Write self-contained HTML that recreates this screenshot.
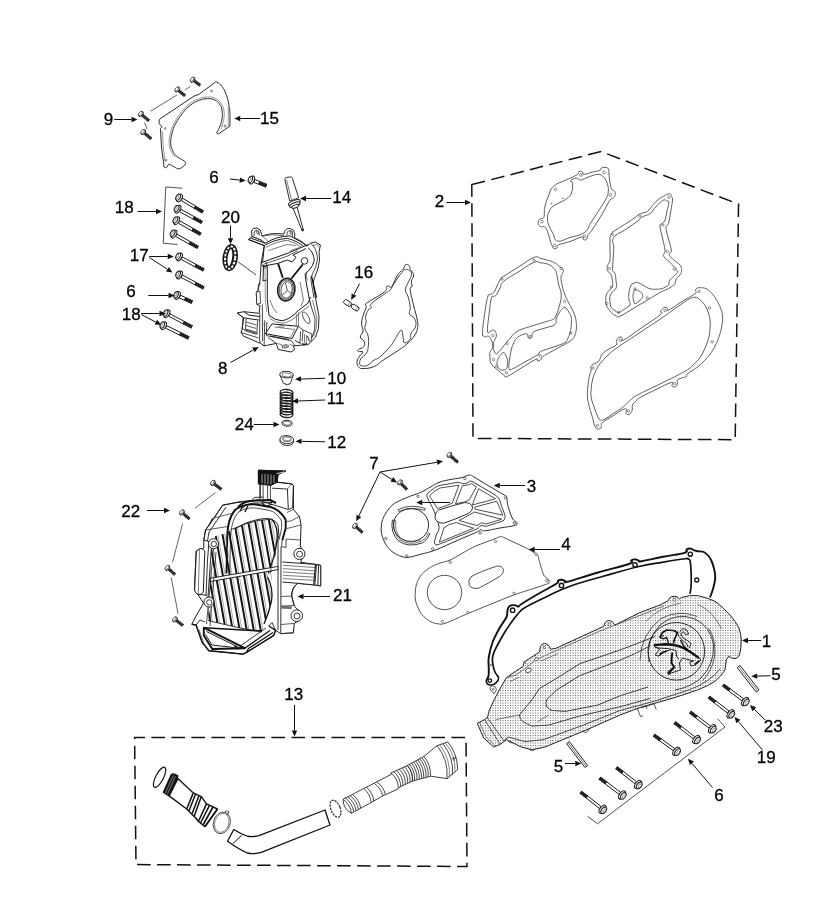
<!DOCTYPE html>
<html><head><meta charset="utf-8"><title>Parts diagram</title>
<style>
html,body{margin:0;padding:0;background:#fff;}
body{width:820px;height:915px;overflow:hidden;font-family:"Liberation Sans",sans-serif;}
svg{display:block;will-change:transform;}
svg text{font-family:"Liberation Sans",sans-serif;fill:#000;stroke:#000;stroke-width:0.3px;}
</style></head><body>
<svg width="820" height="915" viewBox="0 0 820 915" stroke-linejoin="round" stroke-linecap="butt">
<defs>
<pattern id="dots" width="5" height="5" patternUnits="userSpaceOnUse"><rect width="5" height="5" fill="#fff"/><rect x="0" y="0" width="1" height="1" fill="#6a6a6a"/><rect x="2" y="0" width="2" height="1" fill="#b4b4b4"/><rect x="0" y="2" width="1" height="2" fill="#b4b4b4"/><rect x="2" y="2" width="2" height="2" fill="#d6d6d6"/><rect x="1" y="1" width="1" height="1" fill="#e6e6e6"/></pattern>
</defs>
<rect width="820" height="915" fill="#fff"/>
<path d="M471.8 184.6L601 151.5L738.55 204.1L735.2 439.7L473 438.4Z" stroke="#111" stroke-width="1.5" fill="none" stroke-dasharray="13.6 6.4" stroke-linejoin="miter"/>
<path d="M134.6 737.4L466 737.4L467 866.5L136 864.6Z" stroke="#111" stroke-width="1.5" fill="none" stroke-dasharray="13.6 6.4" stroke-dashoffset="3.15" stroke-linejoin="miter"/>
<path d="M159.1 120L161 118.2L193.9 96.2L198.8 94.4L214.6 82.8C215.18 82.66 215.37 81.34 217.1 82.2C218.83 83.06 219.88 83.65 222 86.5C224.12 89.35 224.64 90.29 226.2 94.4C227.76 98.51 227.84 99.83 228.7 104.1C229.56 108.37 229.62 107.57 229.9 112.7C230.18 117.83 229.9 122.97 229.9 126.1L218.3 134L216.5 132.8C217.2 131.52 218.22 130.57 219.5 127.3C220.78 124.03 221.42 122.79 222 118.8C222.58 114.81 222.58 113.63 222 110.2C221.42 106.77 221.23 106.5 219.5 104.1C217.77 101.7 217.45 101.16 214.6 99.9C211.75 98.64 210.99 98.56 207.3 98.7C203.61 98.84 202.79 98.94 198.8 100.5C194.81 102.06 193.91 102.55 190.2 105.4C186.49 108.25 186.31 108.43 182.9 112.7C179.49 116.97 178.14 118.87 175.6 123.7C173.06 128.53 173.14 128.85 172 133.4C170.86 137.95 170.56 139.21 170.7 143.2C170.84 147.19 171.32 147.51 172.6 150.5C173.88 153.49 173.8 153.74 176.2 156C178.6 158.26 180.75 158.64 182.9 160.2C185.05 161.76 185.12 161.42 185.4 162.7C185.68 163.98 185.66 164.28 184.1 165.7C182.54 167.12 180.96 168.5 178.7 168.8C176.44 169.1 176.69 168 174.4 167C172.11 166 170.74 164.36 168.9 164.5C167.06 164.64 167.64 167.02 166.5 167.6C165.36 168.18 164.58 167.14 164 167L163.4 161.5L161.6 148L160.4 128.5L162.2 126.7L159.1 123.7Z" stroke="#222" stroke-width="0.95" fill="#fff"/>
<path d="M221 129.5C221.65 127.05 223.15 123.55 223.8 119C224.45 114.45 224.45 113.69 223.8 110C223.15 106.31 222.94 105.91 221 103.2C219.06 100.49 218.7 99.85 215.5 98.4C212.3 96.95 211.27 96.88 207.3 97C203.33 97.12 202.68 97.27 198.5 98.9C194.32 100.53 193.32 101.04 189.4 104C185.48 106.96 185.25 107.17 181.7 111.6C178.15 116.03 176.84 118.01 174.2 123C171.56 127.99 171.57 128.29 170.4 133C169.23 137.71 169.01 138.93 169.2 143.2C169.39 147.47 169.8 148.03 171.2 151.3C172.6 154.57 174.27 155.82 175.2 157.2" stroke="#555" stroke-width="0.6" fill="none"/>
<path d="M228.2 106.5L228.4 126.3" stroke="#555" stroke-width="0.6" fill="none"/>
<path d="M162.4 131L163.4 148L165 161.5" stroke="#555" stroke-width="0.6" fill="none"/>
<circle cx="211.6" cy="91" r="1" stroke="#333" stroke-width="0.6" fill="none"/>
<circle cx="225" cy="126.1" r="1.1" stroke="#333" stroke-width="0.6" fill="none"/>
<circle cx="165.2" cy="128.5" r="0.9" stroke="#333" stroke-width="0.6" fill="none"/>
<circle cx="165.9" cy="160.2" r="0.9" stroke="#333" stroke-width="0.6" fill="none"/>
<path d="M193.91 80.69L200.3 85.4" stroke="#111" stroke-width="3.2" stroke-dasharray="1.2 0.7" fill="none"/>
<path d="M193.91 80.69L200.3 85.4" stroke="#222" stroke-width="2.7" fill="none" opacity="0.8"/>
<ellipse cx="192.7" cy="79.8" rx="1.65" ry="3" transform="rotate(36.38 192.7 79.8)" stroke="#222" stroke-width="0.9" fill="#fff"/>
<ellipse cx="191.98" cy="79.27" rx="1.35" ry="2.4" transform="rotate(36.38 191.98 79.27)" stroke="#333" stroke-width="0.7" fill="#fff"/>
<path d="M178.55 90.46L185 95.8" stroke="#111" stroke-width="3.2" stroke-dasharray="1.2 0.7" fill="none"/>
<path d="M178.55 90.46L185 95.8" stroke="#222" stroke-width="2.7" fill="none" opacity="0.8"/>
<ellipse cx="177.4" cy="89.5" rx="1.65" ry="3" transform="rotate(39.66 177.4 89.5)" stroke="#222" stroke-width="0.9" fill="#fff"/>
<ellipse cx="176.71" cy="88.93" rx="1.35" ry="2.4" transform="rotate(39.66 176.71 88.93)" stroke="#333" stroke-width="0.7" fill="#fff"/>
<path d="M142.14 114.97L149 120.8" stroke="#111" stroke-width="3.2" stroke-dasharray="1.2 0.7" fill="none"/>
<path d="M142.14 114.97L149 120.8" stroke="#222" stroke-width="2.7" fill="none" opacity="0.8"/>
<ellipse cx="141" cy="114" rx="1.65" ry="3" transform="rotate(40.36 141 114)" stroke="#222" stroke-width="0.9" fill="#fff"/>
<ellipse cx="140.31" cy="113.42" rx="1.35" ry="2.4" transform="rotate(40.36 140.31 113.42)" stroke="#333" stroke-width="0.7" fill="#fff"/>
<path d="M144.46 133.15L151.3 138.8" stroke="#111" stroke-width="3.2" stroke-dasharray="1.2 0.7" fill="none"/>
<path d="M144.46 133.15L151.3 138.8" stroke="#222" stroke-width="2.7" fill="none" opacity="0.8"/>
<ellipse cx="143.3" cy="132.2" rx="1.65" ry="3" transform="rotate(39.52 143.3 132.2)" stroke="#222" stroke-width="0.9" fill="#fff"/>
<ellipse cx="142.61" cy="131.63" rx="1.35" ry="2.4" transform="rotate(39.52 142.61 131.63)" stroke="#333" stroke-width="0.7" fill="#fff"/>
<path d="M150.5 111.2L177 95" stroke="#222" stroke-width="0.7" fill="none"/>
<path d="M185 90L190.5 86.3" stroke="#222" stroke-width="0.7" fill="none"/>
<path d="M144.5 122.5L147 129" stroke="#222" stroke-width="0.7" fill="none"/>
<path d="M253.76 182.35L258.61 184.26L259.71 181.47L254.86 179.56Z" stroke="#1a1a1a" stroke-width="1" fill="#fff"/>
<path d="M259.16 182.86L266.6 185.8" stroke="#111" stroke-width="4" stroke-dasharray="1.5 0.6" fill="none"/>
<path d="M259.16 182.86L266.6 185.8" stroke="#1a1a1a" stroke-width="3.4" fill="none" opacity="0.88"/>
<ellipse cx="251.9" cy="180" rx="2.29" ry="4.25" transform="rotate(21.53 251.9 180)" stroke="#1a1a1a" stroke-width="1" fill="#fff"/>
<ellipse cx="250.41" cy="179.41" rx="2.04" ry="3.33" transform="rotate(21.53 250.41 179.41)" stroke="#1a1a1a" stroke-width="1" fill="#fff"/>
<ellipse cx="249.67" cy="179.12" rx="1.11" ry="1.85" transform="rotate(21.53 249.67 179.12)" stroke="#555" stroke-width="0.6" fill="none"/>
<path d="M181.03 200.49L194.15 208.3L195.53 205.98L182.42 198.17Z" stroke="#1a1a1a" stroke-width="1" fill="#fff"/>
<path d="M194.84 207.14L203 212" stroke="#111" stroke-width="3.7" stroke-dasharray="1.5 0.6" fill="none"/>
<path d="M194.84 207.14L203 212" stroke="#1a1a1a" stroke-width="3.1" fill="none" opacity="0.88"/>
<ellipse cx="179.5" cy="198" rx="2.29" ry="4.25" transform="rotate(30.78 179.5 198)" stroke="#1a1a1a" stroke-width="1" fill="#fff"/>
<ellipse cx="178.13" cy="197.18" rx="2.04" ry="3.33" transform="rotate(30.78 178.13 197.18)" stroke="#1a1a1a" stroke-width="1" fill="#fff"/>
<ellipse cx="177.44" cy="196.77" rx="1.11" ry="1.85" transform="rotate(30.78 177.44 196.77)" stroke="#555" stroke-width="0.6" fill="none"/>
<path d="M179.61 211.68L193.03 219.09L194.34 216.73L180.92 209.32Z" stroke="#1a1a1a" stroke-width="1" fill="#fff"/>
<path d="M193.68 217.91L202 222.5" stroke="#111" stroke-width="3.7" stroke-dasharray="1.5 0.6" fill="none"/>
<path d="M193.68 217.91L202 222.5" stroke="#1a1a1a" stroke-width="3.1" fill="none" opacity="0.88"/>
<ellipse cx="178" cy="209.25" rx="2.29" ry="4.25" transform="rotate(28.9 178 209.25)" stroke="#1a1a1a" stroke-width="1" fill="#fff"/>
<ellipse cx="176.6" cy="208.48" rx="2.04" ry="3.33" transform="rotate(28.9 176.6 208.48)" stroke="#1a1a1a" stroke-width="1" fill="#fff"/>
<ellipse cx="175.9" cy="208.09" rx="1.11" ry="1.85" transform="rotate(28.9 175.9 208.09)" stroke="#555" stroke-width="0.6" fill="none"/>
<path d="M178.35 223.2L191.81 230.77L193.13 228.42L179.67 220.84Z" stroke="#1a1a1a" stroke-width="1" fill="#fff"/>
<path d="M192.47 229.59L200.75 234.25" stroke="#111" stroke-width="3.7" stroke-dasharray="1.5 0.6" fill="none"/>
<path d="M192.47 229.59L200.75 234.25" stroke="#1a1a1a" stroke-width="3.1" fill="none" opacity="0.88"/>
<ellipse cx="176.75" cy="220.75" rx="2.29" ry="4.25" transform="rotate(29.36 176.75 220.75)" stroke="#1a1a1a" stroke-width="1" fill="#fff"/>
<ellipse cx="175.36" cy="219.97" rx="2.04" ry="3.33" transform="rotate(29.36 175.36 219.97)" stroke="#1a1a1a" stroke-width="1" fill="#fff"/>
<ellipse cx="174.66" cy="219.57" rx="1.11" ry="1.85" transform="rotate(29.36 174.66 219.57)" stroke="#555" stroke-width="0.6" fill="none"/>
<path d="M175.6 236.45L189.06 244.02L190.38 241.67L176.92 234.09Z" stroke="#1a1a1a" stroke-width="1" fill="#fff"/>
<path d="M189.72 242.84L198 247.5" stroke="#111" stroke-width="3.7" stroke-dasharray="1.5 0.6" fill="none"/>
<path d="M189.72 242.84L198 247.5" stroke="#1a1a1a" stroke-width="3.1" fill="none" opacity="0.88"/>
<ellipse cx="174" cy="234" rx="2.29" ry="4.25" transform="rotate(29.36 174 234)" stroke="#1a1a1a" stroke-width="1" fill="#fff"/>
<ellipse cx="172.61" cy="233.22" rx="2.04" ry="3.33" transform="rotate(29.36 172.61 233.22)" stroke="#1a1a1a" stroke-width="1" fill="#fff"/>
<ellipse cx="171.91" cy="232.82" rx="1.11" ry="1.85" transform="rotate(29.36 171.91 232.82)" stroke="#555" stroke-width="0.6" fill="none"/>
<path d="M182.5 188.25L165.75 187L163.25 243.25L177.5 244.5" stroke="#222" stroke-width="0.8" fill="none"/>
<path d="M181.14 259.41L194.74 266.7L196.02 264.32L182.42 257.03Z" stroke="#1a1a1a" stroke-width="1" fill="#fff"/>
<path d="M195.38 265.51L203.75 270" stroke="#111" stroke-width="3.7" stroke-dasharray="1.5 0.6" fill="none"/>
<path d="M195.38 265.51L203.75 270" stroke="#1a1a1a" stroke-width="3.1" fill="none" opacity="0.88"/>
<ellipse cx="179.5" cy="257" rx="2.29" ry="4.25" transform="rotate(28.19 179.5 257)" stroke="#1a1a1a" stroke-width="1" fill="#fff"/>
<ellipse cx="178.09" cy="256.24" rx="2.04" ry="3.33" transform="rotate(28.19 178.09 256.24)" stroke="#1a1a1a" stroke-width="1" fill="#fff"/>
<ellipse cx="177.38" cy="255.87" rx="1.11" ry="1.85" transform="rotate(28.19 177.38 255.87)" stroke="#555" stroke-width="0.6" fill="none"/>
<path d="M181.14 277.41L194.74 284.7L196.02 282.32L182.42 275.03Z" stroke="#1a1a1a" stroke-width="1" fill="#fff"/>
<path d="M195.38 283.51L203.75 288" stroke="#111" stroke-width="3.7" stroke-dasharray="1.5 0.6" fill="none"/>
<path d="M195.38 283.51L203.75 288" stroke="#1a1a1a" stroke-width="3.1" fill="none" opacity="0.88"/>
<ellipse cx="179.5" cy="275" rx="2.29" ry="4.25" transform="rotate(28.19 179.5 275)" stroke="#1a1a1a" stroke-width="1" fill="#fff"/>
<ellipse cx="178.09" cy="274.24" rx="2.04" ry="3.33" transform="rotate(28.19 178.09 274.24)" stroke="#1a1a1a" stroke-width="1" fill="#fff"/>
<ellipse cx="177.38" cy="273.87" rx="1.11" ry="1.85" transform="rotate(28.19 177.38 273.87)" stroke="#555" stroke-width="0.6" fill="none"/>
<path d="M179.24 297.93L184.39 300.27L185.63 297.53L180.48 295.2Z" stroke="#1a1a1a" stroke-width="1" fill="#fff"/>
<path d="M185.01 298.9L192.3 302.2" stroke="#111" stroke-width="4" stroke-dasharray="1.5 0.6" fill="none"/>
<path d="M185.01 298.9L192.3 302.2" stroke="#1a1a1a" stroke-width="3.4" fill="none" opacity="0.88"/>
<ellipse cx="177.5" cy="295.5" rx="2.29" ry="4.25" transform="rotate(24.36 177.5 295.5)" stroke="#1a1a1a" stroke-width="1" fill="#fff"/>
<ellipse cx="176.04" cy="294.84" rx="2.04" ry="3.33" transform="rotate(24.36 176.04 294.84)" stroke="#1a1a1a" stroke-width="1" fill="#fff"/>
<ellipse cx="175.31" cy="294.51" rx="1.11" ry="1.85" transform="rotate(24.36 175.31 294.51)" stroke="#555" stroke-width="0.6" fill="none"/>
<path d="M168.66 316.16L182.97 323.74L184.24 321.36L169.92 313.77Z" stroke="#1a1a1a" stroke-width="1" fill="#fff"/>
<path d="M183.61 322.55L192 327" stroke="#111" stroke-width="3.7" stroke-dasharray="1.5 0.6" fill="none"/>
<path d="M183.61 322.55L192 327" stroke="#1a1a1a" stroke-width="3.1" fill="none" opacity="0.88"/>
<ellipse cx="167" cy="313.75" rx="2.29" ry="4.25" transform="rotate(27.92 167 313.75)" stroke="#1a1a1a" stroke-width="1" fill="#fff"/>
<ellipse cx="165.59" cy="313" rx="2.04" ry="3.33" transform="rotate(27.92 165.59 313)" stroke="#1a1a1a" stroke-width="1" fill="#fff"/>
<ellipse cx="164.88" cy="312.63" rx="1.11" ry="1.85" transform="rotate(27.92 164.88 312.63)" stroke="#555" stroke-width="0.6" fill="none"/>
<path d="M165.48 328.1L179.63 335.03L180.81 332.61L166.67 325.68Z" stroke="#1a1a1a" stroke-width="1" fill="#fff"/>
<path d="M180.22 333.82L188.75 338" stroke="#111" stroke-width="3.7" stroke-dasharray="1.5 0.6" fill="none"/>
<path d="M180.22 333.82L188.75 338" stroke="#1a1a1a" stroke-width="3.1" fill="none" opacity="0.88"/>
<ellipse cx="163.75" cy="325.75" rx="2.29" ry="4.25" transform="rotate(26.1 163.75 325.75)" stroke="#1a1a1a" stroke-width="1" fill="#fff"/>
<ellipse cx="162.31" cy="325.05" rx="2.04" ry="3.33" transform="rotate(26.1 162.31 325.05)" stroke="#1a1a1a" stroke-width="1" fill="#fff"/>
<ellipse cx="161.59" cy="324.69" rx="1.11" ry="1.85" transform="rotate(26.1 161.59 324.69)" stroke="#555" stroke-width="0.6" fill="none"/>
<path d="M284.8 179.2Q285 177.6 286.8 177.4L290.6 176.9Q292 177 292.4 178.4L298.7 197.8L289.7 201.1Z" stroke="#222" stroke-width="0.95" fill="#fff"/>
<path d="M286.6 180L291.6 200.2" stroke="#444" stroke-width="0.7" fill="none"/>
<path d="M292.6 207.2L302.2 230.8L303.4 230.2L296.8 206Z" stroke="#222" stroke-width="0.95" fill="#fff"/>
<ellipse cx="294.3" cy="202.6" rx="6.2" ry="2.1" transform="rotate(-20 294.3 202.6)" stroke="#222" stroke-width="1" fill="#fff"/>
<ellipse cx="294.9" cy="204.6" rx="5.6" ry="2" transform="rotate(-20 294.9 204.6)" stroke="#222" stroke-width="1" fill="#fff"/>
<ellipse cx="295.3" cy="206.3" rx="3.8" ry="1.5" transform="rotate(-20 295.3 206.3)" stroke="#222" stroke-width="1" fill="#fff"/>
<path d="M302 229L303.2 231.2" stroke="#111" stroke-width="1.6" fill="none"/>
<ellipse cx="230.2" cy="257.6" rx="6.9" ry="12.9" transform="rotate(7 230.2 257.6)" stroke="#111" stroke-width="1.5" fill="#2a2a2a"/>
<ellipse cx="230.2" cy="257.6" rx="5.0" ry="11.1" transform="rotate(7 230.2 257.6)" stroke="#fff" stroke-width="2.1" stroke-dasharray="2.3 1.5" fill="none"/>
<ellipse cx="229.9" cy="257.6" rx="2.9" ry="9.2" transform="rotate(7 229.9 257.6)" stroke="#111" stroke-width="1.3" fill="#fff"/>
<path d="M237.5 261.5L256.25 275" stroke="#222" stroke-width="0.8" fill="none"/>
<g transform="rotate(33 347.5 303)">
<rect x="343.5" y="300.8" width="8" height="4.4" rx="1.6" stroke="#222" stroke-width="0.9" fill="#fff"/>
<ellipse cx="350.3" cy="303" rx="1.2" ry="2.2" stroke="#444" stroke-width="0.6" fill="none"/>
</g>
<g transform="rotate(33 355 307.6)">
<rect x="351" y="305.4" width="8" height="4.4" rx="1.6" stroke="#222" stroke-width="0.9" fill="#fff"/>
<ellipse cx="357.8" cy="307.6" rx="1.2" ry="2.2" stroke="#444" stroke-width="0.6" fill="none"/>
</g>
<path d="M280 375.2L283.4 383.2Q286.8 386.2 290.4 383.6L293.2 375.4" stroke="#222" stroke-width="0.9" fill="#fff"/>
<ellipse cx="286.5" cy="374.6" rx="6.8" ry="3.3" transform="rotate(3 286.5 374.6)" stroke="#222" stroke-width="0.95" fill="#fff"/>
<ellipse cx="286.6" cy="374.9" rx="4.6" ry="2" transform="rotate(3 286.6 374.9)" stroke="#444" stroke-width="0.7" fill="none"/>
<path d="M284 383.5Q286.8 385 290 383.9" stroke="#555" stroke-width="0.6" fill="none"/>
<ellipse cx="286.5" cy="392.5" rx="6.3" ry="3" transform="rotate(4 286.5 392.5)" stroke="#1a1a1a" stroke-width="1.35" fill="none"/>
<ellipse cx="286.5" cy="395.25" rx="6.3" ry="3" transform="rotate(4 286.5 395.25)" stroke="#1a1a1a" stroke-width="1.35" fill="none"/>
<ellipse cx="286.5" cy="398" rx="6.3" ry="3" transform="rotate(4 286.5 398)" stroke="#1a1a1a" stroke-width="1.35" fill="none"/>
<ellipse cx="286.5" cy="400.75" rx="6.3" ry="3" transform="rotate(4 286.5 400.75)" stroke="#1a1a1a" stroke-width="1.35" fill="none"/>
<ellipse cx="286.5" cy="403.5" rx="6.3" ry="3" transform="rotate(4 286.5 403.5)" stroke="#1a1a1a" stroke-width="1.35" fill="none"/>
<ellipse cx="286.5" cy="406.25" rx="6.3" ry="3" transform="rotate(4 286.5 406.25)" stroke="#1a1a1a" stroke-width="1.35" fill="none"/>
<ellipse cx="286.5" cy="409" rx="6.3" ry="3" transform="rotate(4 286.5 409)" stroke="#1a1a1a" stroke-width="1.35" fill="none"/>
<ellipse cx="286.5" cy="411.75" rx="6.3" ry="3" transform="rotate(4 286.5 411.75)" stroke="#1a1a1a" stroke-width="1.35" fill="none"/>
<ellipse cx="286.5" cy="414.5" rx="6.3" ry="3" transform="rotate(4 286.5 414.5)" stroke="#1a1a1a" stroke-width="1.35" fill="none"/>
<path d="M280.3 392.5L280.3 414.5M292.8 392.5L292.8 414.5" stroke="#222" stroke-width="0.8" fill="none"/>
<ellipse cx="287" cy="423.2" rx="5.1" ry="3" transform="rotate(4 287 423.2)" stroke="#222" stroke-width="1" fill="#fff"/>
<ellipse cx="287" cy="423.2" rx="3.7" ry="1.9" transform="rotate(4 287 423.2)" stroke="#444" stroke-width="0.7" fill="#fff"/>
<ellipse cx="286.8" cy="441.2" rx="6.9" ry="4.3" transform="rotate(4 286.8 441.2)" stroke="#222" stroke-width="0.95" fill="#fff"/>
<ellipse cx="286.8" cy="439.6" rx="6.9" ry="4" transform="rotate(4 286.8 439.6)" stroke="#222" stroke-width="0.95" fill="#fff"/>
<ellipse cx="286.9" cy="439.2" rx="4.2" ry="2.3" transform="rotate(4 286.9 439.2)" stroke="#333" stroke-width="0.8" fill="#fff"/>
<path d="M283.3 439.6Q286.8 441.8 290.6 439.9" stroke="#555" stroke-width="0.6" fill="none"/>
<path d="M248.4 239.5L252 236.5L251.5 231Q253 227.5 257 228Q261 229 261.5 234L262 236Q271 232.5 284 234L284.5 231.5Q286 228 290.5 228.6Q294.5 229.5 294.8 234L294.6 237.8Q303 241.5 307 246L310.6 243.2L315.5 242L320.4 245L319.1 252Q320.5 260 317.9 268.8L314.3 278.5L313 283.4L315.5 298L319 316.6L318.4 328.8L315.4 337.3L308 344.6L293.4 345.9L294.6 349.5L291 352L278.2 349.5L276.3 343.4L264.1 345.9L260.5 343.4L243.4 336.1L241 332.4L242.2 328.8L243.4 317.8L237.3 312.9L244 311.7L259.2 313.3L259.9 305.6L256.8 304.4L256.2 292.2L258 290.5L260 281L261.2 262.7L264.3 245.6Z" stroke="#1a1a1a" stroke-width="0.95" fill="#fff"/>
<path d="M254.2 236Q253.6 231 256.2 230.3Q259 230.5 259.3 235.5" stroke="#1a1a1a" stroke-width="0.8" fill="none"/>
<ellipse cx="257.8" cy="232.3" rx="1.2" ry="1.7" transform="rotate(-10 257.8 232.3)" stroke="#333" stroke-width="0.7" fill="none"/>
<path d="M287 235.5Q286.8 231 289.5 230.6Q292.4 231 292.6 236.5" stroke="#1a1a1a" stroke-width="0.8" fill="none"/>
<ellipse cx="291.3" cy="232.5" rx="1.2" ry="1.8" transform="rotate(-10 291.3 232.5)" stroke="#333" stroke-width="0.7" fill="none"/>
<path d="M248.4 239.5L264.3 245.6M250.5 238L265.5 243.4M252 236.5Q262 240 265.5 243.2" stroke="#1a1a1a" stroke-width="1" fill="none"/>
<path d="M264.3 245.6Q274 239.5 287.4 238.3Q298.4 241.5 303.3 246.2" stroke="#1a1a1a" stroke-width="1" fill="none"/>
<path d="M265.5 243.2Q276 236.3 289.9 235.9Q301 241 307 246.2" stroke="#1a1a1a" stroke-width="1" fill="none"/>
<path d="M262 236Q266 238.5 268 241.5" stroke="#444" stroke-width="0.7" fill="none"/>
<path d="M261.2 262.7L288.7 252.9L298.4 248.7L308.2 244.6" stroke="#1a1a1a" stroke-width="1" fill="none"/>
<path d="M264 266L277.7 263.4L287.2 260.1L292.3 261.9L296 257.2L293 255L306 248.5" stroke="#1a1a1a" stroke-width="1" fill="none"/>
<path d="M263.5 264.3L287.9 255.9L298 250.7" stroke="#333" stroke-width="0.8" fill="none"/>
<path d="M288.7 252.9L292 250L300 247.5" stroke="#444" stroke-width="0.7" fill="none"/>
<path d="M308.2 248Q313.5 252 314.3 260.2Q313 266 309.4 270L305.1 273.7L305.7 279.8L309.4 299.3L311 306" stroke="#1a1a1a" stroke-width="1" fill="none"/>
<path d="M310.6 243.2Q317 248 317.5 259Q316.5 267 312.5 274L310.8 278L311.5 284L314 298" stroke="#1a1a1a" stroke-width="0.8" fill="none"/>
<path d="M311.5 276L316.5 297.5" stroke="#111" stroke-width="1.3" fill="none"/>
<path d="M312.5 245.5L316.5 244.5L319 246.5" stroke="#444" stroke-width="0.7" fill="none"/>
<path d="M307 271.5Q305.3 276 307.5 280.5" stroke="#444" stroke-width="0.7" fill="none"/>
<path d="M264.3 245.6L262.6 262.2M267.3 266.3L267.3 299.3L269 315.4M263.5 265L263 281L266.6 280" stroke="#1a1a1a" stroke-width="1" fill="none"/>
<path d="M261.2 262.7L263.2 266.8L267.3 266.3L266.2 262" stroke="#1a1a1a" stroke-width="0.8" fill="none"/>
<path d="M265 270L265.3 300L266.8 312" stroke="#555" stroke-width="0.6" fill="none"/>
<circle cx="265.2" cy="268.2" r="0.9" stroke="#333" stroke-width="0.6" fill="none"/>
<path d="M256.2 292.2L259.9 291L260.5 303.2L256.8 304.4" stroke="#1a1a1a" stroke-width="0.8" fill="none"/>
<path d="M258 290.5L258.5 284L260.5 283.5" stroke="#1a1a1a" stroke-width="0.8" fill="none"/>
<path d="M278 263.4L282.8 277.7" stroke="#111" stroke-width="1.8" fill="none"/>
<path d="M302.9 264.3L291.2 278.8" stroke="#111" stroke-width="1.8" fill="none"/>
<circle cx="304.5" cy="260.9" r="3.3" stroke="#1a1a1a" stroke-width="0.9" fill="#fff"/>
<ellipse cx="286.3" cy="289.6" rx="8.6" ry="11.3" transform="rotate(8 286.3 289.6)" stroke="#222" stroke-width="1.7" fill="#fff"/>
<ellipse cx="286.3" cy="289.6" rx="7" ry="9.7" transform="rotate(8 286.3 289.6)" stroke="#333" stroke-width="0.8" fill="none"/>
<ellipse cx="286.6" cy="289.9" rx="5.6" ry="8.3" transform="rotate(8 286.6 289.9)" stroke="#333" stroke-width="0.8" fill="none"/>
<path d="M285.3 282L287.3 290.5L281.8 295.5M287.3 290.5L291.8 294" stroke="#333" stroke-width="0.8" fill="none"/>
<path d="M269 315.4Q275 320.5 282 320.8Q290 319.5 298.3 310.5L308 303.2L310.5 297" stroke="#1a1a1a" stroke-width="1" fill="none"/>
<path d="M269.5 318.3Q275.5 323 282.3 323.3Q291 322.3 299.5 313.2L309 306" stroke="#444" stroke-width="0.7" fill="none"/>
<path d="M237.3 312.9L243.4 317.8L259.5 320.2M243.4 317.8L242.2 328.8M244 311.7L249 315.2L259.8 316.5" stroke="#1a1a1a" stroke-width="1" fill="none"/>
<path d="M246 319L245.5 329L257 332.5L257.5 321" stroke="#1a1a1a" stroke-width="0.8" fill="none"/>
<path d="M242.2 328.8L258 334M241 332.4L258.5 338" stroke="#1a1a1a" stroke-width="0.8" fill="none"/>
<path d="M244.5 330.5L256.5 334.2" stroke="#555" stroke-width="1.2" fill="none"/>
<path d="M259.9 313.5L259.5 340L260.5 343.4M262.3 304.4L262.6 341" stroke="#1a1a1a" stroke-width="0.8" fill="none"/>
<path d="M264.8 320.2L264.1 345.9M267 322L266.2 335" stroke="#1a1a1a" stroke-width="0.8" fill="none"/>
<circle cx="264.3" cy="324.3" r="0.6" stroke="#333" stroke-width="0.5" fill="none"/>
<path d="M272 323.9L298.3 326.3L292.2 338.5L265.4 333.7Z" stroke="#1a1a1a" stroke-width="1" fill="none"/>
<path d="M274.5 327L294.8 329.5L290.5 337.5" stroke="#444" stroke-width="0.7" fill="none"/>
<path d="M266 335.5L291.5 340.8L295 346" stroke="#1a1a1a" stroke-width="0.8" fill="none"/>
<path d="M268 337.5Q272 340 276.3 343.4" stroke="#1a1a1a" stroke-width="0.8" fill="none"/>
<path d="M278 326L283 327.5Q285 327 283 325.6L279.5 325" stroke="#444" stroke-width="0.6" fill="none"/>
<ellipse cx="306.2" cy="317.8" rx="2.6" ry="6.4" transform="rotate(-28 306.2 317.8)" stroke="#333" stroke-width="0.8" fill="none"/>
<path d="M296.8 314L296.2 326M298.7 312.3L298.4 326" stroke="#444" stroke-width="0.7" fill="none"/>
<path d="M298.3 326.3L303 330L302.2 341M300.5 331.5L300 343M303 330L312 334L311 341.5" stroke="#1a1a1a" stroke-width="0.8" fill="none"/>
<path d="M304.6 334L304.4 343.2M306.5 335L306.3 342.5" stroke="#444" stroke-width="0.7" fill="none"/>
<path d="M302 343.6Q304.5 345.5 307 343.3" stroke="#222" stroke-width="1.4" fill="none"/>
<path d="M311 306L315 318.5L314.6 330L311.8 338" stroke="#1a1a1a" stroke-width="0.8" fill="none"/>
<path d="M282.5 345.5Q286 343.6 288.6 345.5Q289 347.8 285.5 348Q282.5 347.6 282.5 345.5Z" stroke="#333" stroke-width="0.7" fill="none"/>
<ellipse cx="285.7" cy="346.3" rx="1.4" ry="0.8" transform="rotate(0 285.7 346.3)" stroke="#333" stroke-width="0.6" fill="none"/>
<path d="M276.3 343.4L281.5 344.5L283 349M293.4 345.9L289.5 344.2" stroke="#444" stroke-width="0.7" fill="none"/>
<path d="M252 236.5L262 240.3M262 236Q272 233.8 284 235.6" stroke="#333" stroke-width="0.7" fill="none"/>
<path d="M266 247.5Q275.5 241.5 287.4 240.3Q297 243 301.5 247.5" stroke="#333" stroke-width="0.7" fill="none"/>
<path d="M268.5 250.5L287 244.5L296 245.5" stroke="#444" stroke-width="0.7" fill="none"/>
<path d="M270 300Q272 308 277 313" stroke="#444" stroke-width="0.7" fill="none"/>
<path d="M300 282L303.5 300L301 306" stroke="#444" stroke-width="0.7" fill="none"/>
<path d="M246 322L256.5 325M246 325.5L256.3 328.5" stroke="#333" stroke-width="0.8" fill="none"/>
<path d="M270 336L289 339.5" stroke="#222" stroke-width="1.1" fill="none"/>
<path d="M295 340.5L300.5 343.5M307.5 336L309.5 341.5" stroke="#222" stroke-width="1" fill="none"/>
<path d="M312.5 300L316.8 318L316.2 328.5L313.3 336.5" stroke="#444" stroke-width="0.7" fill="none"/>
<path d="M406.9 264.4C407.97 264.56 408.73 265.03 409.5 266.2C410.27 267.37 409.43 267.88 410.2 269.4C410.97 270.92 412.03 271.16 412.8 272.7C413.57 274.24 413.8 274.02 413.5 276C413.2 277.98 411.87 278.75 411.5 281.2C411.13 283.65 412.2 284.49 411.9 286.5C411.6 288.51 409.83 285.51 410.2 289.8C410.57 294.09 411.82 297.71 413.5 304.9C415.18 312.09 416.49 315.09 417.4 320.6C418.31 326.11 418.01 325.14 417.4 328.5C416.79 331.86 416.95 331.64 414.8 335C412.65 338.36 412.19 339.21 408.2 342.9C404.21 346.59 403.51 346.81 397.7 350.8C391.89 354.79 388.81 356.34 383.3 360C377.79 363.66 378.84 364.52 374.1 366.5C369.36 368.48 366.66 368.5 363 368.5C359.34 368.5 359.78 368.18 358.4 366.5C357.02 364.82 356.8 363.75 357.1 361.3C357.4 358.85 358.32 358.15 359.7 356C361.08 353.85 363.3 353.17 363 352.1C362.7 351.03 359.47 352.01 358.4 351.4C357.33 350.79 357.19 350.57 358.4 349.5C359.61 348.43 362.22 348.64 363.6 346.8C364.98 344.96 365.07 343.89 364.3 341.6C363.53 339.31 360.6 339.45 360.3 337C360 334.55 362.7 334.32 363 331.1C363.3 327.88 361.46 327.19 361.6 323.2C361.74 319.21 362.53 317.66 363.6 314C364.67 310.34 365.73 309.79 366.2 307.5C366.67 305.21 364.67 305.74 365.6 304.2C366.53 302.66 365.77 303.82 370.2 300.9C374.63 297.98 380.77 294.92 384.6 291.7C388.43 288.48 385.69 288.48 386.6 287.1C387.51 285.72 387.29 285.94 388.5 285.8C389.71 285.66 389.65 289.09 391.8 286.5C393.95 283.91 395.09 278.69 397.7 274.7C400.31 270.71 401.32 271.55 403 269.4C404.68 267.25 403.99 266.67 404.9 265.5C405.81 264.33 405.83 264.24 406.9 264.4Z" stroke="#222" stroke-width="0.95" fill="#fff" />
<path d="M405.6 269.4C407.12 269.24 408.12 269.46 409.5 270.7C410.88 271.94 411.8 271.92 411.5 274.7C411.2 277.48 409.65 279.08 408.2 282.6C406.75 286.12 405.3 286.44 405.3 289.8C405.3 293.16 407.06 292.87 408.2 297C409.34 301.13 409.9 303.53 410.2 307.5C410.5 311.47 408.59 311.55 409.5 314C410.41 316.45 412.63 315.25 414.1 318C415.57 320.75 416.55 322.14 415.8 325.8C415.05 329.46 412.21 330.62 410.9 333.7C409.59 336.78 411.74 336.85 410.2 339C408.66 341.15 405.98 343.53 404.3 342.9C402.62 342.27 403.77 339.22 403 336.3C402.23 333.38 402.84 329.77 401 330.4C399.16 331.03 397.69 335.17 395.1 339C392.51 342.83 393.56 342.53 389.9 346.8C386.24 351.07 383.09 354.22 379.4 357.3C375.71 360.38 376.85 358.16 374.1 360C371.35 361.84 370.35 363.82 367.6 365.2C364.85 366.58 364.14 366.2 362.3 365.9C360.46 365.6 360 365.6 359.7 363.9C359.4 362.2 359.48 361.05 361 358.6C362.52 356.15 364.52 356.15 366.2 353.4C367.88 350.65 367.73 350.79 368.2 346.8C368.67 342.81 368.97 340.57 368.2 336.3C367.43 332.03 365.37 331.86 364.9 328.5C364.43 325.14 366.04 324.65 366.2 321.9C366.36 319.15 365.13 319.45 365.6 316.7C366.07 313.95 366.82 312.25 368.2 310.1C369.58 307.95 370.73 309.04 371.5 307.5C372.27 305.96 368.14 306.88 371.5 303.5C374.86 300.12 381.61 296.06 385.9 293C390.19 289.94 388.22 292.22 389.9 290.4C391.58 288.58 390.98 288.56 393.1 285.2C395.22 281.84 396.69 279.22 399 276C401.31 272.78 401.46 272.94 403 271.4C404.54 269.86 404.08 269.56 405.6 269.4Z" stroke="#222" stroke-width="0.85" fill="none" />
<path d="M553.75 186.25C557.83 182.52 560.58 182.67 566 180C571.42 177.33 573.97 176.78 577 174.8C580.03 172.82 577.72 172.15 579 171.5C580.28 170.85 581.33 171.35 582.5 172C583.67 172.65 581.78 174.25 584 174.3C586.22 174.35 588.27 173.16 592 172.2C595.73 171.24 597.78 171.18 600 170.2C602.22 169.22 600.33 168.68 601.5 168C602.67 167.32 603.37 167.07 605 167.3C606.63 167.53 607.57 167.44 608.5 169C609.43 170.56 608.74 171.43 609 174C609.26 176.57 609.02 176.62 609.6 180C610.18 183.38 610.31 185.82 611.5 188.5C612.69 191.18 613.88 189.87 614.7 191.5C615.52 193.13 615.51 193.87 615 195.5C614.49 197.13 613.67 197.45 612.5 198.5C611.33 199.55 611.75 197.55 610 200C608.25 202.45 607.68 204.33 605 209C602.32 213.67 601.77 214.75 598.5 220C595.23 225.25 593.5 227.95 591 231.5C588.5 235.05 588.78 233.45 587.8 235.2C586.82 236.95 587.8 237.95 586.8 239C585.8 240.05 584.62 240.17 583.5 239.7C582.38 239.23 585.15 236.58 582 237C578.85 237.42 575.48 239.63 570 241.5C564.52 243.37 561.53 243.48 558.5 245C555.47 246.52 558.17 247.23 557 248C555.83 248.77 554.67 248.88 553.5 248.3C552.33 247.72 552.82 247.44 552 245.5C551.18 243.56 551.05 243.32 550 240C548.95 236.68 548.78 234.28 547.5 231.25C546.22 228.22 546.13 228.11 544.5 227C542.87 225.89 541.95 227.32 540.5 226.5C539.05 225.68 538.58 225.13 538.3 223.5C538.02 221.87 538.03 220.9 539.3 219.5C540.57 218.1 542.58 219.25 543.75 217.5C544.92 215.75 544.01 214.62 544.3 212C544.59 209.38 544.02 209.98 545 206.25C545.98 202.52 546.46 200.67 548.5 196C550.54 191.33 549.67 189.98 553.75 186.25Z" stroke="#333" stroke-width="0.8" fill="none" />
<path d="M570.5 180.5C569.54 181.74 572.27 180.58 572.5 183.5C572.73 186.42 572.78 189.5 571.5 193C570.22 196.5 569.68 196.28 567 198.5C564.32 200.72 563.27 200.7 560 202.5C556.73 204.3 555.52 204.1 553 206.2C550.48 208.3 550.48 208.63 549.2 211.5C547.92 214.37 547.55 215.23 547.5 218.5C547.45 221.77 547.72 222 549 225.5C550.28 229 551.02 229.88 553 233.5C554.98 237.12 553.53 240.07 557.5 241C561.47 241.93 563.7 239.48 570 237.5C576.3 235.52 579.6 236 584.5 232.5C589.4 229 587.5 227.87 591 222.5C594.5 217.13 595.93 215.17 599.5 209.5C603.07 203.83 604.27 202.28 606.3 198.2C608.33 194.12 607.85 194.99 608.2 192C608.55 189.01 608.52 188.48 607.8 185.4C607.08 182.32 606.41 181.02 605.1 178.8C603.79 176.58 603.55 176.9 602.2 175.9C600.85 174.9 601.35 174.66 599.3 174.5C597.25 174.34 596.83 174.24 593.4 175.2C589.97 176.16 587.68 177.48 584.6 178.6C581.52 179.72 582.07 180.09 580.2 180C578.33 179.91 578.86 178.08 576.6 178.2C574.34 178.32 571.46 179.26 570.5 180.5Z" stroke="#333" stroke-width="0.8" fill="none" />
<circle cx="555.5" cy="189.5" r="1.35" stroke="#444" stroke-width="0.6" fill="none"/>
<circle cx="581" cy="175" r="1.35" stroke="#444" stroke-width="0.6" fill="none"/>
<circle cx="604" cy="172.3" r="1.35" stroke="#444" stroke-width="0.6" fill="none"/>
<circle cx="610.6" cy="194.8" r="1.35" stroke="#444" stroke-width="0.6" fill="none"/>
<circle cx="584.4" cy="236.3" r="1.35" stroke="#444" stroke-width="0.6" fill="none"/>
<circle cx="554.7" cy="245.5" r="1.35" stroke="#444" stroke-width="0.6" fill="none"/>
<circle cx="542" cy="221.7" r="1.35" stroke="#444" stroke-width="0.6" fill="none"/>
<circle cx="551.5" cy="203.5" r="0.5" stroke="#444" stroke-width="0.6" fill="none"/>
<circle cx="563" cy="198.5" r="0.5" stroke="#444" stroke-width="0.6" fill="none"/>
<path d="M533.75 257.5C539 255.52 537.5 257.8 541 258.5C544.5 259.2 545.48 259.45 548.75 260.5C552.02 261.55 552.49 261.58 555 263C557.51 264.42 557.98 265.55 559.5 266.6C561.02 267.65 560.59 266.64 561.5 267.5C562.41 268.36 563.17 268.9 563.4 270.3C563.63 271.7 563.06 271.82 562.5 273.5C561.94 275.18 561 274.35 561 277.5C561 280.65 561.57 282.92 562.5 287C563.43 291.08 563.6 291.38 565 295C566.4 298.62 566.75 299 568.5 302.5C570.25 306 570.98 306.85 572.5 310C574.02 313.15 574.12 313.08 575 316C575.88 318.92 575.95 319.47 576.25 322.5C576.55 325.53 576.59 326.08 576.3 329C576.01 331.92 575.77 332.78 575 335C574.23 337.22 574.17 337.04 573 338.5C571.83 339.96 573.5 339.03 570 341.25C566.5 343.47 563.25 345.08 558 348C552.75 350.92 551 351.77 547.5 353.75C544 355.73 544.75 354.95 543 356.5C541.25 358.05 541.35 359.44 540 360.4C538.65 361.36 538.23 360.83 537.2 360.6C536.17 360.37 539.31 357.67 535.6 359.4C531.89 361.13 527.86 364.07 521.3 368C514.74 371.93 511.59 374.62 507.5 376.25C503.41 377.88 506.2 376.57 503.75 375C501.3 373.43 499.92 372.12 497 369.5C494.08 366.88 492.88 366.43 491.25 363.75C489.62 361.07 490.29 360.62 490 358C489.71 355.38 489.53 354.6 490 352.5C490.47 350.4 491.12 350.46 492 349C492.88 347.54 493.75 348 493.75 346.25C493.75 344.5 493.17 343.83 492 341.5C490.83 339.17 490.15 337.35 488.75 336.25C487.35 335.15 487.17 336.8 486 336.8C484.83 336.8 484.57 337.25 483.75 336.25C482.93 335.25 482.32 337.46 482.5 332.5C482.68 327.54 483.33 323.17 484.5 315C485.67 306.83 486.22 302.28 487.5 297.5C488.78 292.72 488.54 295.67 490 294.5C491.46 293.33 492.12 294.48 493.75 292.5C495.38 290.52 495.54 288.92 497 286C498.46 283.08 498.95 281.98 500 280C501.05 278.02 500.62 278.38 501.5 277.5C502.38 276.62 499.78 278.7 503.75 276.25C507.72 273.8 511.5 271.38 518.5 267C525.5 262.62 528.5 259.48 533.75 257.5Z" stroke="#333" stroke-width="0.8" fill="none" />
<path d="M533.75 262.5C538.88 260.47 537.5 262.33 541 262.8C544.5 263.27 545.95 263.4 548.75 264.5C551.55 265.6 551.25 265.63 553 267.5C554.75 269.37 554.97 268.65 556.25 272.5C557.53 276.35 557.33 278.75 558.5 284C559.67 289.25 561.13 289.63 561.25 295C561.37 300.37 560.46 301.75 559 307C557.54 312.25 556.75 314.47 555 317.5C553.25 320.53 553.25 319.12 551.5 320C549.75 320.88 552.05 319.85 547.5 321.25C542.95 322.65 539 323.67 532 326C525 328.33 522.87 328.1 517.5 331.25C512.13 334.4 512.5 335.71 509 339.5C505.5 343.29 504.72 344.82 502.5 347.5C500.28 350.18 500.96 349.54 499.5 351C498.04 352.46 497.65 354.1 496.25 353.75C494.85 353.4 494.38 351.54 493.5 349.5C492.62 347.46 492.27 347.1 492.5 345C492.73 342.9 493.62 342.54 494.5 340.5C495.38 338.46 495.95 338.12 496.25 336.25C496.55 334.38 496.38 333.96 495.8 332.5C495.22 331.04 494.99 330.3 493.75 330C492.51 329.7 491.96 330.91 490.5 331.2C489.04 331.49 487.85 335.03 487.5 331.25C487.15 327.47 488.12 322.58 489 315C489.88 307.42 490.2 303.11 491.25 298.75C492.3 294.39 492.33 297.18 493.5 296.3C494.67 295.43 494.73 296.94 496.25 295C497.77 293.06 498.25 291.21 500 288C501.75 284.79 499.32 285.1 503.75 281.25C508.18 277.4 512 275.88 519 271.5C526 267.12 528.62 264.53 533.75 262.5Z" stroke="#333" stroke-width="0.8" fill="none" />
<path d="M565 307.5C566.7 308.08 567.34 309.67 568.8 312C570.26 314.33 570.67 314.47 571.25 317.5C571.83 320.53 571.59 321.5 571.3 325C571.01 328.5 570.77 329.47 570 332.5C569.23 335.53 569.17 335.67 568 338C566.83 340.33 568.5 340.35 565 342.5C561.5 344.65 558.54 345.16 553 347.2C547.46 349.24 544.63 349.55 541.25 351.25C537.87 352.95 539.38 353.62 538.5 354.5C537.62 355.38 540.88 353.13 537.5 355C534.12 356.87 530.12 359.12 524 362.5C517.88 365.88 514.68 368.1 511.25 369.5C507.82 370.9 509.88 369.26 509.3 368.5C508.72 367.74 508.63 368.7 508.75 366.25C508.87 363.8 509.22 361.79 509.8 358C510.38 354.21 510.46 353.27 511.25 350C512.04 346.73 512.03 346.62 513.2 344C514.37 341.38 514.55 340.73 516.25 338.75C517.95 336.77 518.17 336.67 520.5 335.5C522.83 334.33 524.55 333.73 526.25 333.75C527.95 333.77 527.39 334.75 527.8 335.6C528.21 336.45 527.49 336.77 528 337.4C528.51 338.03 529.07 338.35 530 338.3C530.93 338.25 531.49 338.09 532 337.2C532.51 336.31 531.5 335.89 532.2 334.5C532.9 333.11 532.01 332.77 535 331.25C537.99 329.73 540.33 329.57 545 328C549.67 326.43 552.39 326.6 555 324.5C557.61 322.4 555.33 321.51 556.2 319C557.08 316.49 557.51 315.97 558.75 313.75C559.99 311.53 560.04 310.96 561.5 309.5C562.96 308.04 563.3 306.92 565 307.5Z" stroke="#333" stroke-width="0.8" fill="none" />
<path d="M503.75 352.5C505.08 352.9 505 354 506 356C507 358 507.13 357.73 507.5 360C507.87 362.27 507.73 362.17 507.4 364.5C507.07 366.83 507.42 367.28 506.25 368.75C505.08 370.22 504.67 369.8 503 370C501.33 370.2 501.33 370.3 500 369.5C498.67 368.7 498.8 368.53 498 367C497.2 365.47 497.13 365.48 497 363.75C496.87 362.02 497.03 362.17 497.5 360.5C497.97 358.83 497.82 359.1 498.75 357.5C499.68 355.9 499.67 355.83 501 354.5C502.33 353.17 502.42 352.1 503.75 352.5Z" stroke="#333" stroke-width="0.8" fill="none" />
<circle cx="534" cy="260.2" r="1.2" stroke="#444" stroke-width="0.6" fill="none"/>
<circle cx="561" cy="268.5" r="1.2" stroke="#444" stroke-width="0.6" fill="none"/>
<circle cx="502" cy="279" r="1.2" stroke="#444" stroke-width="0.6" fill="none"/>
<circle cx="492.8" cy="335.5" r="1.2" stroke="#444" stroke-width="0.6" fill="none"/>
<circle cx="564.5" cy="301.5" r="1.2" stroke="#444" stroke-width="0.6" fill="none"/>
<circle cx="571" cy="333" r="1.2" stroke="#444" stroke-width="0.6" fill="none"/>
<circle cx="540.3" cy="355.8" r="1.2" stroke="#444" stroke-width="0.6" fill="none"/>
<circle cx="530" cy="336.3" r="1.2" stroke="#444" stroke-width="0.6" fill="none"/>
<circle cx="507.2" cy="343.5" r="1.2" stroke="#444" stroke-width="0.6" fill="none"/>
<circle cx="493.5" cy="359.5" r="1.2" stroke="#444" stroke-width="0.6" fill="none"/>
<circle cx="506.3" cy="372.7" r="1.2" stroke="#444" stroke-width="0.6" fill="none"/>
<circle cx="496.3" cy="366.5" r="1.2" stroke="#444" stroke-width="0.6" fill="none"/>
<path d="M669.5 193.75C671.37 193.8 670.8 195.04 671.5 196.5C672.2 197.96 672.66 196.62 672.5 200C672.34 203.38 671.67 205.75 670.8 211C669.92 216.25 669.64 219.12 668.75 222.5C667.86 225.88 667.64 224.1 667 225.5C666.36 226.9 665.65 225.35 666 228.5C666.35 231.65 667.27 233.98 668.5 239C669.73 244.02 670.9 246.73 671.25 250C671.6 253.27 670.41 251.72 670 253C669.59 254.28 668.45 253.75 669.5 255.5C670.55 257.25 672.05 258.28 674.5 260.5C676.95 262.72 678.39 263.13 680 265C681.61 266.87 681.11 266.75 681.4 268.5C681.69 270.25 681.81 270.75 681.25 272.5C680.69 274.25 680.17 274.54 679 276C677.83 277.46 677.07 277.35 676.25 278.75C675.43 280.15 676.08 280.54 675.5 282C674.92 283.46 675.38 283.48 673.75 285C672.12 286.52 671.12 287.04 668.5 288.5C665.88 289.96 665.65 289.62 662.5 291.25C659.35 292.88 658.5 293.46 655 295.5C651.5 297.54 652.4 297.08 647.5 300C642.6 302.92 640.42 304.21 634 308C627.58 311.79 624.2 314.5 620 316.25C615.8 318 617.75 316.08 616 315.5C614.25 314.92 614.13 315.15 612.5 313.75C610.87 312.35 610.46 311.54 609 309.5C607.54 307.46 607 307.22 606.25 305C605.5 302.78 605.8 302.33 605.8 300C605.8 297.67 605.5 297.22 606.25 295C607 292.78 607.54 292.54 609 290.5C610.46 288.46 611.73 288.58 612.5 286.25C613.27 283.92 612.59 283.12 612.3 280.5C612.01 277.88 612.14 276.98 611.25 275C610.36 273.02 609.49 273.46 608.5 272C607.51 270.54 607.12 270.5 607 268.75C606.88 267 607.3 266.54 608 264.5C608.7 262.46 609.53 263.38 610 260C610.47 256.62 610 254.67 610 250C610 245.33 609.93 243.15 610 240C610.07 236.85 610.01 237.96 610.3 236.5C610.59 235.04 610.78 234.75 611.25 233.75C611.72 232.75 611.72 232.78 612.3 232.2C612.88 231.62 610.9 233.05 613.75 231.25C616.6 229.45 619.54 227.71 624.5 224.5C629.46 221.29 631.97 219.65 635 217.5C638.03 215.35 636.22 216.18 637.5 215.3C638.78 214.43 638.98 214.4 640.5 213.75C642.02 213.1 642.37 213.08 644 212.5C645.63 211.92 645.52 212.88 647.5 211.25C649.48 209.62 650.17 208.12 652.5 205.5C654.83 202.88 654.93 202.15 657.5 200C660.07 197.85 660.7 197.76 663.5 196.3C666.3 194.84 667.63 193.7 669.5 193.75Z" stroke="#333" stroke-width="0.8" fill="none" />
<path d="M663.75 200C665.56 199.31 665.33 200.22 666.5 200.8C667.67 201.38 668.63 200.12 668.75 202.5C668.87 204.88 667.88 206.92 667 211C666.12 215.08 666.05 217.15 665 220C663.95 222.85 663.67 221.74 662.5 223.2C661.33 224.66 660 222.8 660 226.25C660 229.7 661.33 232.46 662.5 238C663.67 243.54 664.6 246.38 665 250C665.4 253.62 664.48 251.98 664.2 253.5C663.92 255.02 662.56 254.52 663.8 256.5C665.04 258.48 666.89 259.43 669.5 262C672.11 264.57 673.34 265.63 675 267.5C676.66 269.37 676.02 268.83 676.6 270C677.18 271.17 678.22 270.98 677.5 272.5C676.78 274.02 675.25 274.75 673.5 276.5C671.75 278.25 671.05 278.6 670 280C668.95 281.4 669.35 281.33 669 282.5C668.65 283.67 669.43 283.9 668.5 285C667.57 286.1 666.69 286.32 665 287.2C663.31 288.07 663.47 288.28 661.25 288.75C659.03 289.22 658.12 289.2 655.5 289.2C652.88 289.2 652.8 289.61 650 288.75C647.2 287.89 646.42 286.96 643.5 285.5C640.58 284.04 639.72 283.04 637.5 282.5C635.28 281.96 635.46 282.62 634 283.2C632.54 283.78 632.3 283.41 631.25 285C630.2 286.59 630.08 287.67 629.5 290C628.92 292.33 628.87 292.67 628.75 295C628.63 297.33 628.71 297.67 629 300C629.29 302.33 631.05 302.9 630 305C628.95 307.1 627.12 307.25 624.5 309C621.88 310.75 620.97 312.15 618.75 312.5C616.53 312.85 616.75 311.67 615 310.5C613.25 309.33 612.42 309.48 611.25 307.5C610.08 305.52 610.29 304.62 610 302C609.71 299.38 609.3 298.7 610 296.25C610.7 293.8 611.54 293.54 613 291.5C614.46 289.46 615.55 290.07 616.25 287.5C616.95 284.93 616.29 283.71 616 280.5C615.71 277.29 615.75 275.97 615 273.75C614.25 271.53 613.38 272.17 612.8 271C612.22 269.83 612.41 271.78 612.5 268.75C612.59 265.72 612.91 262.96 613.2 258C613.49 253.04 613.62 252.28 613.75 247.5C613.88 242.72 611.01 241.7 613.75 237.5C616.49 233.3 619.96 233.29 625.5 229.5C631.04 225.71 634.16 223.75 637.5 221.25C640.84 218.75 638.92 219.68 639.8 218.8C640.67 217.93 639.92 218.27 641.25 217.5C642.58 216.73 643.46 216.38 645.5 215.5C647.54 214.62 647.9 215.38 650 213.75C652.1 212.12 652.46 210.83 654.5 208.5C656.54 206.17 656.59 205.73 658.75 203.75C660.91 201.77 661.94 200.69 663.75 200Z" stroke="#333" stroke-width="0.8" fill="none" />
<path d="M635 290C636.31 289.47 636.83 290.13 638.5 290.8C640.17 291.47 640.16 291.38 641.25 292.5C642.34 293.62 642.27 293.67 642.6 295C642.93 296.33 643.46 295.9 642.5 297.5C641.54 299.1 641 299.33 639 301C637 302.67 636.44 304.02 635 303.75C633.56 303.48 634.13 302 633.6 300C633.07 298 633 298.17 633 296.25C633 294.33 633.07 294.47 633.6 292.8C634.13 291.13 633.69 290.53 635 290Z" stroke="#333" stroke-width="0.8" fill="none" />
<circle cx="668.8" cy="197.3" r="1.2" stroke="#444" stroke-width="0.6" fill="none"/>
<circle cx="639.7" cy="216" r="1.2" stroke="#444" stroke-width="0.6" fill="none"/>
<circle cx="662.8" cy="225" r="1.2" stroke="#444" stroke-width="0.6" fill="none"/>
<circle cx="612.8" cy="234.5" r="1.2" stroke="#444" stroke-width="0.6" fill="none"/>
<circle cx="667.3" cy="251.5" r="1.2" stroke="#444" stroke-width="0.6" fill="none"/>
<circle cx="609.3" cy="268.5" r="1.2" stroke="#444" stroke-width="0.6" fill="none"/>
<circle cx="674.3" cy="269.2" r="1.2" stroke="#444" stroke-width="0.6" fill="none"/>
<circle cx="635" cy="289" r="1.2" stroke="#444" stroke-width="0.6" fill="none"/>
<circle cx="647.2" cy="298" r="1.2" stroke="#444" stroke-width="0.6" fill="none"/>
<circle cx="606.8" cy="303.5" r="1.2" stroke="#444" stroke-width="0.6" fill="none"/>
<circle cx="618.5" cy="312.2" r="1.2" stroke="#444" stroke-width="0.6" fill="none"/>
<circle cx="611.3" cy="287" r="1.2" stroke="#444" stroke-width="0.6" fill="none"/>
<path d="M697.5 288C698.9 287.37 699.46 287.62 701.5 287.8C703.54 287.98 704.03 287.65 706.25 288.75C708.47 289.85 708.96 290.46 711 292.5C713.04 294.54 713.25 294.93 715 297.5C716.75 300.07 717.04 300.58 718.5 303.5C719.96 306.42 720.34 307.32 721.25 310C722.16 312.68 722.11 312.67 722.4 315C722.69 317.33 722.78 316.73 722.5 320C722.22 323.27 722.08 324.92 721.2 329C720.33 333.08 720.08 333.77 718.75 337.5C717.42 341.23 717.25 341.5 715.5 345C713.75 348.5 713.47 349.23 711.25 352.5C709.03 355.77 708.62 356.08 706 359C703.38 361.92 702.8 362.55 700 365C697.2 367.45 696.92 367.46 694 369.5C691.08 371.54 689.25 372.12 687.5 373.75C685.75 375.38 687.32 375.67 686.5 376.5C685.68 377.33 685.28 376.88 684 377.3C682.72 377.72 682.52 377.67 681 378.3C679.48 378.93 678.34 378.79 677.5 380C676.66 381.21 677.69 382.04 677.4 383.5C677.11 384.96 677.16 385.48 676.25 386.25C675.34 387.02 674.49 386.98 673.5 386.8C672.51 386.62 672.52 386.5 672 385.5C671.48 384.5 675.22 381.45 671.25 382.5C667.28 383.55 662.29 386.5 655 390C647.71 393.5 644.43 394.93 640 397.5C635.57 400.07 637.75 399.25 636 401C634.25 402.75 633.36 403.13 632.5 405C631.64 406.87 632.59 407.25 632.3 409C632.01 410.75 632.14 411.22 631.25 412.5C630.36 413.78 629.68 414.27 628.5 414.5C627.32 414.73 627.02 414.84 626.2 413.5C625.38 412.16 627.96 408.28 625 408.75C622.04 409.22 618.75 412.29 613.5 415.5C608.25 418.71 605.3 420.05 602.5 422.5C599.7 424.95 602.08 424.54 601.5 426C600.92 427.46 601.05 428.12 600 428.75C598.95 429.38 598.17 429.28 597 428.7C595.83 428.12 595.79 427.81 595 426.25C594.21 424.69 594.18 424.04 593.6 422C593.02 419.96 593.46 420.88 592.5 417.5C591.54 414.12 590.67 412.17 589.5 407.5C588.33 402.83 587.92 401.93 587.5 397.5C587.08 393.07 587.41 392.58 587.7 388.5C587.99 384.42 588.28 383.15 588.75 380C589.22 376.85 589.12 377.33 589.7 375C590.28 372.67 591.06 371.63 591.25 370C591.44 368.37 590.5 368.88 590.5 368C590.5 367.12 590.67 367.14 591.25 366.25C591.83 365.36 592.12 364.87 593 364.2C593.88 363.53 593.66 364.09 595 363.4C596.34 362.71 597.47 362.63 598.75 361.25C600.03 359.87 599.62 359.25 600.5 357.5C601.38 355.75 600.52 355.73 602.5 353.75C604.48 351.77 605.79 351.04 609 349C612.21 346.96 614.55 346.75 616.25 345C617.95 343.25 616.01 342.96 616.3 341.5C616.59 340.04 616.64 339.8 617.5 338.75C618.36 337.7 618.88 337.22 620 337C621.12 336.78 621.42 337.1 622.3 337.8C623.17 338.5 619.15 342.4 623.75 340C628.35 337.6 633.54 333.33 642 327.5C650.46 321.67 655.66 318.73 660 315C664.34 311.27 660.02 312.96 660.6 311.5C661.18 310.04 661.47 309.73 662.5 308.75C663.53 307.77 663.88 307.48 665 307.3C666.12 307.12 666.42 307.37 667.3 308C668.17 308.63 665.32 311.52 668.75 310C672.18 308.48 675.88 305.29 682 301.5C688.12 297.71 691.85 296.32 695 293.75C698.15 291.18 694.92 291.84 695.5 290.5C696.08 289.16 696.1 288.63 697.5 288Z" stroke="#333" stroke-width="0.8" fill="none" />
<path d="M696.25 297.4C698.35 298.05 698.96 298.91 701 300.8C703.04 302.69 703.37 302.89 705 305.5C706.63 308.11 706.83 308.62 708 312C709.17 315.38 709.53 316.03 710 320C710.47 323.97 710.29 324.92 710 329C709.71 333.08 709.92 333.07 708.75 337.5C707.58 341.93 707.04 343.33 705 348C702.96 352.67 702.8 353.53 700 357.5C697.2 361.47 696.5 361.79 693 365C689.5 368.21 692.47 366.93 685 371.25C677.53 375.57 672.08 377.96 661 383.5C649.92 389.04 644.85 390.92 637.5 395C630.15 399.08 633 398.08 629.5 401C626 403.92 626.23 404.61 622.5 407.5C618.77 410.39 617.58 410.72 613.5 413.4C609.42 416.08 607.8 417.46 605 419C602.2 420.54 602.96 420.09 601.5 420C600.04 419.91 600.31 421.17 598.75 418.6C597.19 416.03 596.55 413.92 594.8 409C593.05 404.08 592.07 402.28 591.25 397.5C590.43 392.72 591.01 392.58 591.3 388.5C591.59 384.42 591.52 383.97 592.5 380C593.48 376.03 593.75 375.29 595.5 371.5C597.25 367.71 597.08 367.55 600 363.75C602.92 359.95 603.92 358.99 608 355.2C612.08 351.41 610.03 352.8 617.5 347.5C624.97 342.2 629.5 339.5 640 332.5C650.5 325.5 654.33 323.08 662.5 317.5C670.67 311.92 669.17 312.68 675 308.6C680.83 304.52 683.53 302.47 687.5 300C691.47 297.53 689.96 298.61 692 298C694.04 297.39 694.15 296.75 696.25 297.4Z" stroke="#333" stroke-width="0.8" fill="none" />
<circle cx="699" cy="291.5" r="1.2" stroke="#444" stroke-width="0.6" fill="none"/>
<circle cx="709.5" cy="308" r="1.2" stroke="#444" stroke-width="0.6" fill="none"/>
<circle cx="712.2" cy="341.8" r="1.2" stroke="#444" stroke-width="0.6" fill="none"/>
<circle cx="665" cy="310.5" r="1.2" stroke="#444" stroke-width="0.6" fill="none"/>
<circle cx="620.3" cy="340.3" r="1.2" stroke="#444" stroke-width="0.6" fill="none"/>
<circle cx="593" cy="368" r="1.2" stroke="#444" stroke-width="0.6" fill="none"/>
<circle cx="674.8" cy="383.5" r="1.2" stroke="#444" stroke-width="0.6" fill="none"/>
<circle cx="628.5" cy="411" r="1.2" stroke="#444" stroke-width="0.6" fill="none"/>
<circle cx="597.5" cy="425.5" r="1.2" stroke="#444" stroke-width="0.6" fill="none"/>
<path d="M469.2 475.1C471.76 474.92 470.04 474.82 473.8 476.9C477.56 478.98 482.16 482.02 488 485.5C493.84 488.98 499.26 492 503 494.3C506.74 496.6 505.78 495 506.7 497C507.62 499 506.5 500.1 507.6 504.3C508.7 508.5 510.36 514.34 512.2 518C514.04 521.66 516.26 521.12 516.8 522.6C517.34 524.08 518.26 524.32 514.9 525.4C511.54 526.48 506.02 526.92 500 528C493.98 529.08 488.6 530.48 484.8 530.8C481 531.12 482.48 529.4 481 529.6C479.52 529.8 482.4 529.52 477.4 531.8C472.4 534.08 464.4 537.36 456 541C447.6 544.64 442.4 547.36 435.4 550C428.4 552.64 426.5 552.72 421 554.2C415.5 555.68 411.7 556.94 407.9 557.4C404.1 557.86 404.18 557.06 402 556.5C399.82 555.94 399 555.6 397 554.6C395 553.6 393.84 552.96 392 551.5C390.16 550.04 389.3 549.2 387.8 547.3C386.3 545.4 385.6 544.2 384.5 542C383.4 539.8 382.96 538.5 382.3 536.3C381.64 534.1 381.38 533.18 381.2 531C381.02 528.82 381.12 527.7 381.4 525.4C381.68 523.1 381.86 521.7 382.6 519.5C383.34 517.3 383.88 516.5 385.1 514.4C386.32 512.3 387.06 511.02 388.7 509C390.34 506.98 391.18 505.94 393.3 504.3C395.42 502.66 396.74 502.08 399.3 500.8C401.86 499.52 403.36 499.02 406.1 497.9C408.84 496.78 410.08 496.3 413 495.2C415.92 494.1 417.3 493.98 420.7 492.4C424.1 490.82 426.34 489.3 430 487.3C433.66 485.3 435 483.94 439 482.4C443 480.86 445.6 480.52 450 479.6C454.4 478.68 457.16 478.7 461 477.8C464.84 476.9 466.64 475.28 469.2 475.1Z" stroke="#222" stroke-width="0.95" fill="#fff" />
<path d="M427.1 494.3C427.77 492.77 430.17 491.18 432 489.8C433.83 488.42 435.43 486.97 438.1 486C440.77 485.03 444.65 484.6 448 484C451.35 483.4 455.78 482.47 458.2 482.4C460.62 482.33 461.12 483.45 462.5 483.6C463.88 483.75 465.42 483.62 466.5 483.3C467.58 482.98 468.08 482 469 481.7C469.92 481.4 469.33 480.28 472 481.5C474.67 482.72 480.73 486.42 485 489C489.27 491.58 494.85 494.17 497.6 497C500.35 499.83 500.28 502.95 501.5 506C502.72 509.05 504.38 513.22 504.9 515.3C505.42 517.38 504.92 517.58 504.6 518.5C504.28 519.42 504.77 519.92 503 520.8C501.23 521.68 496.88 522.88 494 523.8C491.12 524.72 487.87 526.02 485.7 526.3C483.53 526.58 482.53 525.05 481 525.5C479.47 525.95 480.5 527.08 476.5 529C472.5 530.92 463.4 534.4 457 537C450.6 539.6 441.63 543.4 438.1 544.6C434.57 545.8 436.42 544.52 435.8 544.2C435.18 543.88 434.32 544.23 434.4 542.7C434.48 541.17 435.53 537.58 436.3 535C437.07 532.42 439.38 531.2 439 527.2C438.62 523.2 435.83 515.7 434 511C432.17 506.3 429.15 501.78 428 499C426.85 496.22 426.43 495.83 427.1 494.3Z" stroke="#222" stroke-width="0.9" fill="none" />
<path d="M429.5 496L434 491.5L440 488L459 485.2L452.2 503.2L444 506.5L437.5 508.5Z" stroke="#222" stroke-width="0.8" fill="none"/>
<path d="M462.5 485.6L467 485.2L471.5 483.6L476.3 487L469.3 499.8L464 502.2L455.5 503.6Z" stroke="#222" stroke-width="0.8" fill="none"/>
<path d="M478.6 488.7L495.5 498.8L472.2 505Z" stroke="#222" stroke-width="0.8" fill="none"/>
<path d="M496.8 501.2L502.8 515.2L475 509.2L474.6 507.2Z" stroke="#222" stroke-width="0.8" fill="none"/>
<path d="M501.5 519.3L486 524L481.3 522.8L477 525.6L459 520.5L470 514.6L474.5 512Z" stroke="#222" stroke-width="0.8" fill="none"/>
<path d="M456.2 522.6L473.5 528.2L457 535L439.3 542.2L444 527.8L449 524.5Z" stroke="#222" stroke-width="0.8" fill="none"/>
<path d="M438.3 510.2Q452 505.5 464.5 502.6Q470.8 502.4 472.5 506.8Q472.6 511.3 468 513.6Q455 519.6 443.5 523.2Q437.2 523.2 435.2 518.8Q434.4 513 438.3 510.2Z" stroke="#222" stroke-width="0.95" fill="#fff"/>
<ellipse cx="411" cy="525" rx="17.6" ry="16.4" transform="rotate(0 411 525)" stroke="#222" stroke-width="0.95" fill="#fff"/>
<path d="M397.9 509.8Q410 503.5 425.3 508.4L424.8 510.4Q410.5 506 399 511.6Z" stroke="#222" stroke-width="0.8" fill="none"/>
<path d="M392.4 519.9Q390 532 398.5 541Q408.5 548 422.6 542.8Q428.5 539 429.9 533.6" stroke="#222" stroke-width="0.9" fill="none"/>
<path d="M394.2 520.5Q392 531.5 399.8 539.8Q409 546 421.8 541.2Q427 537.8 428.3 533.2" stroke="#333" stroke-width="0.7" fill="none"/>
<path d="M396 521Q394 531 401 538.6Q409.5 544 421 539.8" stroke="#444" stroke-width="0.7" fill="none"/>
<path d="M392.4 519.9L396 521M429.9 533.6L428.3 533.2" stroke="#222" stroke-width="0.7" fill="none"/>
<circle cx="418" cy="496.4" r="1.2" stroke="#333" stroke-width="0.7" fill="#fff"/>
<circle cx="464.8" cy="478.4" r="1.2" stroke="#333" stroke-width="0.7" fill="#fff"/>
<circle cx="505.4" cy="497.8" r="1.2" stroke="#333" stroke-width="0.7" fill="#fff"/>
<circle cx="514.3" cy="523" r="1.2" stroke="#333" stroke-width="0.7" fill="#fff"/>
<circle cx="480.3" cy="533" r="1.2" stroke="#333" stroke-width="0.7" fill="#fff"/>
<circle cx="432.6" cy="548.8" r="1.2" stroke="#333" stroke-width="0.7" fill="#fff"/>
<circle cx="406.8" cy="556" r="1.2" stroke="#333" stroke-width="0.7" fill="#fff"/>
<circle cx="385.8" cy="538.5" r="1.2" stroke="#333" stroke-width="0.7" fill="#fff"/>
<path d="M450.62 455.99L458 462.5" stroke="#111" stroke-width="3.2" stroke-dasharray="1.2 0.7" fill="none"/>
<path d="M450.62 455.99L458 462.5" stroke="#222" stroke-width="2.7" fill="none" opacity="0.8"/>
<ellipse cx="449.5" cy="455" rx="1.65" ry="3" transform="rotate(41.42 449.5 455)" stroke="#222" stroke-width="0.9" fill="#fff"/>
<ellipse cx="448.83" cy="454.4" rx="1.35" ry="2.4" transform="rotate(41.42 448.83 454.4)" stroke="#333" stroke-width="0.7" fill="#fff"/>
<path d="M401.06 483.56L407 489.5" stroke="#111" stroke-width="3.2" stroke-dasharray="1.2 0.7" fill="none"/>
<path d="M401.06 483.56L407 489.5" stroke="#222" stroke-width="2.7" fill="none" opacity="0.8"/>
<ellipse cx="400" cy="482.5" rx="1.65" ry="3" transform="rotate(45 400 482.5)" stroke="#222" stroke-width="0.9" fill="#fff"/>
<ellipse cx="399.36" cy="481.86" rx="1.35" ry="2.4" transform="rotate(45 399.36 481.86)" stroke="#333" stroke-width="0.7" fill="#fff"/>
<path d="M356.13 526.98L362.5 532.5" stroke="#111" stroke-width="3.2" stroke-dasharray="1.2 0.7" fill="none"/>
<path d="M356.13 526.98L362.5 532.5" stroke="#222" stroke-width="2.7" fill="none" opacity="0.8"/>
<ellipse cx="355" cy="526" rx="1.65" ry="3" transform="rotate(40.91 355 526)" stroke="#222" stroke-width="0.9" fill="#fff"/>
<ellipse cx="354.32" cy="525.41" rx="1.35" ry="2.4" transform="rotate(40.91 354.32 525.41)" stroke="#333" stroke-width="0.7" fill="#fff"/>
<path d="M498.75 537C500.05 536.57 500.5 536.5 501.5 536.6C502.5 536.7 500.95 536.22 503.75 537.5C506.55 538.78 510.75 540.75 515.5 543C520.25 545.25 524.2 547.05 527.5 548.75C530.8 550.45 530.25 550.5 532 551.5C533.75 552.5 535.01 552.89 536.25 553.75C537.49 554.61 537.7 554.8 538.2 555.8C538.7 556.8 538.19 556.51 538.75 558.75C539.31 560.99 540 563.75 541 567C542 570.25 542.75 572.9 543.75 575C544.75 577.1 545 576.5 546 577.5C547 578.5 548.15 579.1 548.75 580C549.35 580.9 549.25 581.25 549 582C548.75 582.75 551.2 582.25 547.5 583.75C543.8 585.25 537.25 587.25 530.5 589.5C523.75 591.75 521.85 592 513.75 595C505.65 598 499.25 600.75 490 604.5C480.75 608.25 474.4 610.85 467.5 613.75C460.6 616.65 460.25 617 455.5 619C450.75 621 447.25 622.79 443.75 623.75C440.25 624.71 440.25 624.05 438 623.8C435.75 623.55 434.8 623.5 432.5 622.5C430.2 621.5 428.75 620.55 426.5 618.8C424.25 617.05 422.99 616.11 421.25 613.75C419.51 611.39 418.95 609.75 417.8 607C416.65 604.25 416 602.9 415.5 600C415 597.1 415.15 595.5 415.3 592.5C415.45 589.5 415.65 587.54 416.25 585C416.85 582.46 417.3 581.8 418.3 579.8C419.3 577.8 419.65 576.9 421.25 575C422.85 573.1 424.05 572.05 426.3 570.3C428.55 568.55 429.56 567.75 432.5 566.25C435.44 564.75 437.5 564.05 441 562.8C444.5 561.55 446 561.76 450 560C454 558.24 456.5 556.5 461 554C465.5 551.5 467.9 549.74 472.5 547.5C477.1 545.26 479.5 544.55 484 542.8C488.5 541.05 492.05 539.91 495 538.75C497.95 537.59 497.45 537.43 498.75 537Z" stroke="#333" stroke-width="0.85" fill="#fff" />
<circle cx="444.5" cy="592.5" r="17.2" stroke="#333" stroke-width="0.85" fill="#fff"/>
<path d="M471 576.8Q480 571.5 496.8 566.2Q501.8 565.6 503.5 569.4Q504 573.6 500 576.2Q489 583 479 588Q472.6 589.6 469.2 585.6Q467.6 580.4 471 576.8Z" stroke="#333" stroke-width="0.85" fill="#fff"/>
<circle cx="495.5" cy="541.5" r="1.2" stroke="#333" stroke-width="0.6" fill="#fff"/>
<circle cx="450.2" cy="562.2" r="1.2" stroke="#333" stroke-width="0.6" fill="#fff"/>
<circle cx="536" cy="554.3" r="1.2" stroke="#333" stroke-width="0.6" fill="#fff"/>
<circle cx="547" cy="580.5" r="1.2" stroke="#333" stroke-width="0.6" fill="#fff"/>
<circle cx="514" cy="593.3" r="1.2" stroke="#333" stroke-width="0.6" fill="#fff"/>
<circle cx="467.8" cy="612.3" r="1.2" stroke="#333" stroke-width="0.6" fill="#fff"/>
<circle cx="442.5" cy="621.5" r="1.2" stroke="#333" stroke-width="0.6" fill="#fff"/>
<path d="M486.25 680C486.7 679.2 488 678.4 488.5 676C489 673.6 488.7 671.7 488.75 668C488.8 664.3 488 662.6 488.75 657.5C489.5 652.4 490.45 648.2 492.5 642.5C494.55 636.8 496.25 634 499 629C501.75 624 504.59 620.9 506.25 617.5C507.91 614.1 506.89 614 507.3 612C507.71 610 507.4 608.86 508.3 607.5C509.2 606.14 510.22 605.58 511.8 605.2C513.38 604.82 514.86 605.32 516.2 605.6C517.54 605.88 517.44 606.92 518.5 606.6C519.56 606.28 517.6 606.52 521.5 604C525.4 601.48 531.05 598.05 538 594C544.95 589.95 552.25 586.39 556.25 583.75C560.25 581.11 556.89 581.59 558 580.8C559.11 580.01 560.28 579.7 561.8 579.8C563.32 579.9 564.36 580.94 565.6 581.3C566.84 581.66 561.52 583.36 568 581.6C574.48 579.84 585.8 576.02 598 572.5C610.2 568.98 622.36 566.42 629 564C635.64 561.58 629.94 561.32 631.2 560.4C632.46 559.48 633.74 559.32 635.3 559.4C636.86 559.48 637.76 560.44 639 560.8C640.24 561.16 636.7 562 641.5 561.2C646.3 560.4 654.4 558.48 663 556.8C671.6 555.12 679.78 554.24 684.5 552.8C689.22 551.36 685.38 550.44 686.6 549.6C687.82 548.76 689.06 548.46 690.6 548.6C692.14 548.74 692.82 549.76 694.3 550.3C695.78 550.84 696.11 550.96 698 551.3C699.89 551.64 701.6 551.01 703.75 552C705.9 552.99 707.2 554.45 708.75 556.25C710.3 558.05 710.5 558.75 711.5 561C712.5 563.25 713.05 564.9 713.75 567.5C714.45 570.1 714.75 571.5 715 574C715.25 576.5 715.4 577 715 580C714.6 583 714 585.5 713 589C712 592.5 710.6 595.8 710 597.5" stroke="#111" stroke-width="1.9" fill="none" />
<path d="M498.75 677.5C498 676.4 496.15 674.5 495 672C493.85 669.5 493.44 668.2 493 665C492.56 661.8 491.9 660 492.8 656C493.7 652 494.96 650 497.5 645C500.04 640 502 636.5 505.5 631C509 625.5 512.1 621.4 515 617.5C517.9 613.6 517.9 613.56 520 611.5C522.1 609.44 520.1 610.2 525.5 607.2C530.9 604.2 538.1 600.69 547 596.5C555.9 592.31 558.4 590.39 570 586.25C581.6 582.11 591 579.8 605 575.8C619 571.8 628.6 568.95 640 566.25C651.4 563.55 653 563.8 662 562.3C671 560.8 679.8 559.41 685 558.75C690.2 558.09 687 558.65 688 559C689 559.35 689.4 558.3 690 560.5C690.6 562.7 690.75 566.1 691 570C691.25 573.9 691.25 576.6 691.25 580C691.25 583.4 691.25 584.25 691 587C690.75 589.75 690.2 592.4 690 593.75" stroke="#111" stroke-width="1.7" fill="none" />
<path d="M486.25 680Q486 684.5 490 685Q494 685.5 496.25 682.5Q498.5 681 498.75 677.5" stroke="#111" stroke-width="1.6" fill="none" />
<circle cx="489.8" cy="680.6" r="1.8" stroke="#111" stroke-width="1.3" fill="#fff"/>
<circle cx="512.6" cy="610.2" r="2.2" stroke="#111" stroke-width="1.4" fill="#fff"/>
<circle cx="561.5" cy="585.4" r="2.2" stroke="#111" stroke-width="1.4" fill="#fff"/>
<circle cx="635" cy="564.9" r="2.1" stroke="#111" stroke-width="1.4" fill="#fff"/>
<circle cx="690.3" cy="554.2" r="2.1" stroke="#111" stroke-width="1.4" fill="#fff"/>
<circle cx="696.75" cy="580" r="2" stroke="#111" stroke-width="1.3" fill="#fff"/>
<circle cx="495.2" cy="636.5" r="0.8" stroke="#333" stroke-width="0.6" fill="none"/>
<circle cx="491" cy="665" r="0.8" stroke="#333" stroke-width="0.6" fill="none"/>
<path d="M477.3 723.3L484.6 719.6L487.4 717.8L489.2 710.5L494.7 698.6L501.1 686.7L506.6 677.6L515.7 671.2L523 666.6L524 662L534 655.6L539.5 652L540.4 646.5Q541.5 643.6 544.5 643.4Q548.3 643.8 549.5 646.8L550.5 649.2L556 648.3L603.75 626.25L605.2 622.5Q606.5 620.5 609.5 620.6Q612.7 621 613.8 623.6L615 625L640 612.5L660 605L668.5 600.5L669.5 598Q671.5 596 675 596.3Q678.5 597 679.5 599.2L681.25 597.5Q689 595 697.5 595.5Q707 597.5 715 601.25Q723.5 607.5 730 615Q735.5 621.5 738.75 627.5Q741.2 634 741.25 640Q741.3 648 739.5 655Q738 658.2 735 658.75Q731.5 658.5 728.75 656.25L726.25 660L725 670Q721 676.5 715 681.25Q707 686.5 697.5 690L675 697.5L640 707.5L620 715L587 729.7L545 747L532.2 749.8L521.2 747L506.6 739.7L500.2 744.3L493.8 747L483.7 738Z" stroke="#222" stroke-width="1" fill="url(#dots)" />
<path d="M484.6 719.6L500.2 744.3M487.4 717.8L503.8 740.7" stroke="#333" stroke-width="0.8" fill="none" />
<path d="M479.5 722.3L485.8 736.5L495.5 746" stroke="#555" stroke-width="0.7" fill="none" />
<path d="M495.6 719.6L519.4 715M537.7 721.5L548.6 715" stroke="#444" stroke-width="0.7" fill="none" />
<path d="M503.8 740.7L508.4 737L524.9 741.6L543.2 739.7L583.4 725.1L620 710.5L655 701L690 689.5Q710 682 720 669" stroke="#222" stroke-width="0.8" fill="none" />
<path d="M655 636.5Q640 642.5 620 650L579.7 663.8L557.8 677.6L539.5 688.5L532.2 699.5L519.4 715Q519.5 719.5 523 721.5Q527 724.5 532.2 726L548.6 725.1L579.7 716L620 706.8L650 698.5" stroke="#222" stroke-width="0.85" fill="none" />
<path d="M648 647Q635 654 620 660.2L579.7 675.7L556 690.4L546.8 699.5Q545 703.5 546.8 706.8Q549 709.5 552.3 710.5L565.1 711.4L598 705L620 695.8L648 687" stroke="#222" stroke-width="0.85" fill="none" />
<path d="M506.6 677.6L516 675L524.5 669L535.5 660L552 652.5L600 631L641 615L664 606" stroke="#444" stroke-width="0.7" fill="none" />
<path d="M524 662L527.5 664.5M534 655.6L537 658.5" stroke="#444" stroke-width="0.6" fill="none" />
<path d="M541 661L558 653.5" stroke="#444" stroke-width="0.7" fill="none" />
<path d="M510 681.5L519.5 677" stroke="#444" stroke-width="0.7" fill="none" />
<ellipse cx="528.5" cy="670.3" rx="3" ry="2" transform="rotate(-25 528.5 670.3)" stroke="#333" stroke-width="0.8" fill="#fff"/>
<ellipse cx="536.5" cy="659.2" rx="2" ry="1.4" transform="rotate(-25 536.5 659.2)" stroke="#333" stroke-width="0.7" fill="#fff"/>
<circle cx="544.3" cy="647.4" r="1.2" stroke="#333" stroke-width="0.7" fill="#fff"/>
<circle cx="609.5" cy="624.3" r="1.5" stroke="#333" stroke-width="0.7" fill="#fff"/>
<circle cx="674.5" cy="599.8" r="1.5" stroke="#333" stroke-width="0.7" fill="#fff"/>
<path d="M490 689Q489.5 686 492.5 685.8Q495.5 686.2 496.5 689.5L494 694Z" stroke="#333" stroke-width="0.8" fill="#fff" />
<circle cx="493.2" cy="689.3" r="1" stroke="#333" stroke-width="0.6" fill="none"/>
<path d="M637.5 709L640.5 716.5L643 715.8M641 708L654 703.8L656.3 709.5M646 706.5L647 709" stroke="#333" stroke-width="0.8" fill="none" />
<path d="M529 748.8Q531.5 752.3 535 749.3M583 731.4Q586.5 734.3 589.5 728.7M507.5 740.5Q509.5 743.5 513 742.8" stroke="#333" stroke-width="0.8" fill="none" />
<path d="M649 662Q645.5 640 660 625Q676 611.5 695 619Q711 627 713.5 645Q714.5 664 701 678Q690 687.5 675 690" stroke="#222" stroke-width="0.85" fill="none" />
<path d="M640 660Q641 634 661 618.5Q679 609 697 616.5" stroke="#333" stroke-width="0.8" fill="none" />
<path d="M646 621.5Q659 607 681.25 603" stroke="#444" stroke-width="0.7" fill="none" />
<path d="M697.5 604Q714 612 721.5 629" stroke="#444" stroke-width="0.7" fill="none" />
<ellipse cx="676.3" cy="651.3" rx="28.3" ry="28.8" transform="rotate(0 676.3 651.3)" stroke="#222" stroke-width="0.95" fill="none"/>
<path d="M708.5 628Q716.5 640 714.5 657Q711.5 671.5 703 680" stroke="#333" stroke-width="0.8" fill="none" />
<path d="M659.7 637.4L662.6 632.5L666.6 630L673.5 630.5L677.4 632.5L675.5 637L674.4 639.4L673.5 643.3" stroke="#111" stroke-width="1.7" fill="none" />
<path d="M659.7 637.4L663.6 638.9L666.6 637.4L667.6 640.5L668.5 643.3" stroke="#111" stroke-width="1.3" fill="none" />
<path d="M661.5 636.6L664 635.6" stroke="#111" stroke-width="1" fill="none" />
<path d="M679.4 632.5L682.3 628.5L686.3 629.5L688.7 634L685.3 634.4L683.3 631.5L680.8 634L683 638L687.2 640.4L691.2 643.3L689.2 648.2" stroke="#111" stroke-width="0.9" fill="none" />
<path d="M677.4 632.5L679 636.5L682.5 640.5L686.5 643.5L688 647" stroke="#111" stroke-width="0.9" fill="none" />
<path d="M680.5 640L684 646.5L687.5 649.5" stroke="#111" stroke-width="1.5" fill="none" />
<path d="M653.8 645.3L660 644.6L665.6 644.3L672 644.8L679.4 646.3L684.5 648.5L689.2 651.2L694 654.5L699 658.1" stroke="#111" stroke-width="2.4" fill="none" />
<path d="M653.8 646.3L659.7 649.2L657 652.5L655.3 655.1L658.7 656.1L662 653.5L665.6 651.2L670 650" stroke="#111" stroke-width="0.9" fill="none" />
<path d="M659.5 654.5L663 652.3L667 651" stroke="#111" stroke-width="1.7" fill="none" />
<path d="M655 647.5L661 648.2L668 648.6L676 650.5" stroke="#111" stroke-width="0.9" fill="none" />
<path d="M699 658.1L701 660L698 662.8L695.1 665L691.2 666L689.7 662L693.6 661L688 659.5L682.3 658.1" stroke="#111" stroke-width="0.9" fill="none" />
<path d="M694.5 664.5L699.5 660.5" stroke="#111" stroke-width="1.6" fill="none" />
<path d="M682.3 658.1L679.4 663L680.4 669.9L676 671.5L671.5 672.8L668.5 674.8L667.6 671.9L671.5 668.9L674.4 666.9" stroke="#111" stroke-width="0.9" fill="none" />
<path d="M672.3 652.5L671.7 658L671.5 663L674.3 667.3L671 670.5L668.3 673.8" stroke="#111" stroke-width="2" fill="none" />
<path d="M676 650.5L676.5 656L679 659.5" stroke="#111" stroke-width="0.9" fill="none" />
<path d="M737.18 667.6L756.18 692.1L759.02 689.9L740.02 665.4Z" stroke="#222" stroke-width="1" fill="#fff"/>
<path d="M738.6 666.5L757.6 691" stroke="#555" stroke-width="0.8" fill="none"/>
<path d="M566.65 743.63L584.95 767.53L587.65 765.47L569.35 741.57Z" stroke="#222" stroke-width="1" fill="#fff"/>
<path d="M568 742.6L586.3 766.5" stroke="#555" stroke-width="0.8" fill="none"/>
<path d="M743.48 698.74L730.18 688.76L728.62 690.84L741.92 700.82Z" stroke="#1a1a1a" stroke-width="1" fill="#fff"/>
<path d="M729.4 689.8L723 685" stroke="#111" stroke-width="3.6" stroke-dasharray="1.5 0.6" fill="none"/>
<path d="M729.4 689.8L723 685" stroke="#1a1a1a" stroke-width="3" fill="none" opacity="0.88"/>
<ellipse cx="745" cy="701.5" rx="2.54" ry="4.71" transform="rotate(-143.13 745 701.5)" stroke="#1a1a1a" stroke-width="1" fill="#fff"/>
<ellipse cx="746.28" cy="702.46" rx="2.25" ry="3.69" transform="rotate(-143.13 746.28 702.46)" stroke="#1a1a1a" stroke-width="1" fill="#fff"/>
<ellipse cx="746.92" cy="702.94" rx="1.23" ry="2.05" transform="rotate(-143.13 746.92 702.94)" stroke="#555" stroke-width="0.6" fill="none"/>
<path d="M729.02 710.97L715.88 700.85L714.3 702.91L727.43 713.03Z" stroke="#1a1a1a" stroke-width="1" fill="#fff"/>
<path d="M715.09 701.88L708.75 697" stroke="#111" stroke-width="3.6" stroke-dasharray="1.5 0.6" fill="none"/>
<path d="M715.09 701.88L708.75 697" stroke="#1a1a1a" stroke-width="3" fill="none" opacity="0.88"/>
<ellipse cx="730.5" cy="713.75" rx="2.54" ry="4.71" transform="rotate(-142.4 730.5 713.75)" stroke="#1a1a1a" stroke-width="1" fill="#fff"/>
<ellipse cx="731.77" cy="714.73" rx="2.25" ry="3.69" transform="rotate(-142.4 731.77 714.73)" stroke="#1a1a1a" stroke-width="1" fill="#fff"/>
<ellipse cx="732.4" cy="715.21" rx="1.23" ry="2.05" transform="rotate(-142.4 732.4 715.21)" stroke="#555" stroke-width="0.6" fill="none"/>
<path d="M710.5 725.98L697.15 715.81L695.58 717.88L708.93 728.05Z" stroke="#1a1a1a" stroke-width="1" fill="#fff"/>
<path d="M696.37 716.85L690 712" stroke="#111" stroke-width="3.6" stroke-dasharray="1.5 0.6" fill="none"/>
<path d="M696.37 716.85L690 712" stroke="#1a1a1a" stroke-width="3" fill="none" opacity="0.88"/>
<ellipse cx="712" cy="728.75" rx="2.54" ry="4.71" transform="rotate(-142.72 712 728.75)" stroke="#1a1a1a" stroke-width="1" fill="#fff"/>
<ellipse cx="713.27" cy="729.72" rx="2.25" ry="3.69" transform="rotate(-142.72 713.27 729.72)" stroke="#1a1a1a" stroke-width="1" fill="#fff"/>
<ellipse cx="713.91" cy="730.2" rx="1.23" ry="2.05" transform="rotate(-142.72 713.91 730.2)" stroke="#555" stroke-width="0.6" fill="none"/>
<path d="M694.79 736.71L681.6 726.4L680 728.45L693.19 738.76Z" stroke="#1a1a1a" stroke-width="1" fill="#fff"/>
<path d="M680.8 727.43L674.5 722.5" stroke="#111" stroke-width="3.6" stroke-dasharray="1.5 0.6" fill="none"/>
<path d="M680.8 727.43L674.5 722.5" stroke="#1a1a1a" stroke-width="3" fill="none" opacity="0.88"/>
<ellipse cx="696.25" cy="739.5" rx="2.54" ry="4.71" transform="rotate(-141.99 696.25 739.5)" stroke="#1a1a1a" stroke-width="1" fill="#fff"/>
<ellipse cx="697.51" cy="740.49" rx="2.25" ry="3.69" transform="rotate(-141.99 697.51 740.49)" stroke="#1a1a1a" stroke-width="1" fill="#fff"/>
<ellipse cx="698.14" cy="740.98" rx="1.23" ry="2.05" transform="rotate(-141.99 698.14 740.98)" stroke="#555" stroke-width="0.6" fill="none"/>
<path d="M674.68 748.52L661 738.63L659.47 740.74L673.16 750.62Z" stroke="#1a1a1a" stroke-width="1" fill="#fff"/>
<path d="M660.24 739.68L653.75 735" stroke="#111" stroke-width="3.6" stroke-dasharray="1.5 0.6" fill="none"/>
<path d="M660.24 739.68L653.75 735" stroke="#1a1a1a" stroke-width="3" fill="none" opacity="0.88"/>
<ellipse cx="676.25" cy="751.25" rx="2.54" ry="4.71" transform="rotate(-144.16 676.25 751.25)" stroke="#1a1a1a" stroke-width="1" fill="#fff"/>
<ellipse cx="677.55" cy="752.19" rx="2.25" ry="3.69" transform="rotate(-144.16 677.55 752.19)" stroke="#1a1a1a" stroke-width="1" fill="#fff"/>
<ellipse cx="678.2" cy="752.66" rx="1.23" ry="2.05" transform="rotate(-144.16 678.2 752.66)" stroke="#555" stroke-width="0.6" fill="none"/>
<path d="M636.54 781.71L623.35 771.4L621.75 773.45L634.94 783.76Z" stroke="#1a1a1a" stroke-width="1" fill="#fff"/>
<path d="M622.55 772.43L616.25 767.5" stroke="#111" stroke-width="3.6" stroke-dasharray="1.5 0.6" fill="none"/>
<path d="M622.55 772.43L616.25 767.5" stroke="#1a1a1a" stroke-width="3" fill="none" opacity="0.88"/>
<ellipse cx="638" cy="784.5" rx="2.54" ry="4.71" transform="rotate(-141.99 638 784.5)" stroke="#1a1a1a" stroke-width="1" fill="#fff"/>
<ellipse cx="639.26" cy="785.49" rx="2.25" ry="3.69" transform="rotate(-141.99 639.26 785.49)" stroke="#1a1a1a" stroke-width="1" fill="#fff"/>
<ellipse cx="639.89" cy="785.98" rx="1.23" ry="2.05" transform="rotate(-141.99 639.89 785.98)" stroke="#555" stroke-width="0.6" fill="none"/>
<path d="M620.49 792.23L606.67 781.79L605.1 783.86L618.93 794.31Z" stroke="#1a1a1a" stroke-width="1" fill="#fff"/>
<path d="M605.88 782.82L599.5 778" stroke="#111" stroke-width="3.6" stroke-dasharray="1.5 0.6" fill="none"/>
<path d="M605.88 782.82L599.5 778" stroke="#1a1a1a" stroke-width="3" fill="none" opacity="0.88"/>
<ellipse cx="622" cy="795" rx="2.54" ry="4.71" transform="rotate(-142.93 622 795)" stroke="#1a1a1a" stroke-width="1" fill="#fff"/>
<ellipse cx="623.28" cy="795.96" rx="2.25" ry="3.69" transform="rotate(-142.93 623.28 795.96)" stroke="#1a1a1a" stroke-width="1" fill="#fff"/>
<ellipse cx="623.91" cy="796.45" rx="1.23" ry="2.05" transform="rotate(-142.93 623.91 796.45)" stroke="#555" stroke-width="0.6" fill="none"/>
<path d="M601.04 806.46L587.6 795.91L585.99 797.96L599.44 808.5Z" stroke="#1a1a1a" stroke-width="1" fill="#fff"/>
<path d="M586.8 796.94L580.5 792" stroke="#111" stroke-width="3.6" stroke-dasharray="1.5 0.6" fill="none"/>
<path d="M586.8 796.94L580.5 792" stroke="#1a1a1a" stroke-width="3" fill="none" opacity="0.88"/>
<ellipse cx="602.5" cy="809.25" rx="2.54" ry="4.71" transform="rotate(-141.9 602.5 809.25)" stroke="#1a1a1a" stroke-width="1" fill="#fff"/>
<ellipse cx="603.76" cy="810.24" rx="2.25" ry="3.69" transform="rotate(-141.9 603.76 810.24)" stroke="#1a1a1a" stroke-width="1" fill="#fff"/>
<ellipse cx="604.39" cy="810.73" rx="1.23" ry="2.05" transform="rotate(-141.9 604.39 810.73)" stroke="#555" stroke-width="0.6" fill="none"/>
<path d="M717.5 718.75L725 727L597.5 823.75L587.5 816.25" stroke="#222" stroke-width="0.8" fill="none"/>
<path d="M222.6 505.2L236.2 502.7L258.4 500.1L260.1 498.4L260.1 483.9L258.4 483.9L258.4 470.2L285.7 471.1L278 474.5L277.2 482.2L291.7 483.9L293.4 485.6L293.4 509.5L299.4 516.3L301.1 524.9L300.3 546L304.5 553.9L300.5 562.3L316.5 564.5L320.7 565.4L320.7 585.9L314.8 585L297.7 583.3Q291.5 588 291.7 596.1L294.3 606.3L301.5 613L301 619L294.3 623.4L293.4 632.8L280.6 633.7L275.5 630.2L273.8 635.4L246.5 652.4L243 654.1L208.9 650.7L202.1 642.2L196.1 625.1L191.8 624.3L195.5 617L203.5 603L197.8 594.4L194.4 589.3L196.1 551L203.8 548L203.8 540.2L205.5 530L214 518Z" stroke="#1a1a1a" stroke-width="1" fill="#fff" />
<path d="M258.4 470.2L285.7 471.1L278 474.5L277.2 482.2L270.4 485.6L258.4 483.9Z" stroke="#111" stroke-width="0.8" fill="#111" />
<path d="M262 474L262 483M265 474L265 484M268 474L268 484.5M271 474.5L271 484.5M274 475L274 483" stroke="#ddd" stroke-width="0.7" fill="none" />
<path d="M276.5 473.6L284.5 471.9" stroke="#fff" stroke-width="0.8" fill="none" />
<path d="M260.1 483.9L260.1 498.4M263 484.5L263.2 499.5M270.4 485.6L270.4 500M267.5 486L267.7 500" stroke="#1a1a1a" stroke-width="0.8" fill="none" />
<path d="M270.4 485.6L277.2 482.2L291.7 483.9L293.4 485.6L292.6 507.8L288.3 509.5L287.4 489L272.1 488.2" stroke="#1a1a1a" stroke-width="0.9" fill="none" />
<path d="M287.4 489L291.7 483.9" stroke="#444" stroke-width="0.7" fill="none" />
<path d="M222.6 505.2Q240 500.5 258.4 500.1L288.3 509.5" stroke="#1a1a1a" stroke-width="0.9" fill="none" />
<path d="M238 507Q244 500.5 256 500.5L270 500L276 503" stroke="#111" stroke-width="2.2" fill="none" />
<path d="M242.5 508Q248 502.5 258 503L272 502.5" stroke="#222" stroke-width="1" fill="none" />
<path d="M240 511L243.5 505M245 512L248 505.5M262 503L266 506.5L272 504" stroke="#111" stroke-width="1.3" fill="none" />
<path d="M252 500.5L254 497.5L263 497" stroke="#222" stroke-width="0.9" fill="none" />
<path d="M222.6 505.2L214 518L205.5 530L203.8 540.2M226 507L217 520.5L209 532L207.5 541" stroke="#1a1a1a" stroke-width="0.9" fill="none" />
<path d="M214 518L231 513.5M205.5 530L228 526.5" stroke="#333" stroke-width="0.8" fill="none" />
<path d="M209 525.5L212.5 518.5" stroke="#222" stroke-width="1.2" fill="none" />
<path d="M226.5 573.4L227.3 535Q228 518 235 510Q243 503.5 256 504.5L270.4 507Q280 509.5 285.7 519.8L285.7 528.3L282.3 540.2" stroke="#111" stroke-width="1.9" fill="none" />
<path d="M229.8 572.8L230.5 535Q232 519.5 238 512.5Q245.5 507 256 508L270 510.5Q277.5 513 281.5 521L281.7 528L279 540" stroke="#222" stroke-width="0.8" fill="none" />
<path d="M236.2 528.3Q246 521.5 256.7 519.8Q266 517.8 270.4 518.9Q276.5 521 278 524.9L278.9 535.1L277.2 542" stroke="#222" stroke-width="1" fill="none" />
<path d="M293.4 509.5L287 512.5M299.4 516.3L291 521L286 521.5M301.1 524.9L287 528.5M300.3 540L286 539" stroke="#333" stroke-width="0.8" fill="none" />
<path d="M282.3 540.2L281.5 546.5L286 547.5L286 539" stroke="#1a1a1a" stroke-width="0.8" fill="none" />
<clipPath id="ribclip"><path d="M212 537L226.5 533L230.8 529.7L245 524L258 520.5L272 519.2L276.5 527L277.5 540L275.5 555L271 573L272.5 590L270 607L264 625L262 632L240 628L208 620.6L209 600L209.8 580L211 556Z"/></clipPath>
<g clip-path="url(#ribclip)">
<path d="M184 515L206.5 640" stroke="#111" stroke-width="1.9" fill="none" />
<path d="M186.3 515L208.8 640" stroke="#777" stroke-width="0.6" fill="none" />
<path d="M191 515L213.5 640" stroke="#111" stroke-width="1.9" fill="none" />
<path d="M193.3 515L215.8 640" stroke="#777" stroke-width="0.6" fill="none" />
<path d="M198 515L220.5 640" stroke="#111" stroke-width="1.9" fill="none" />
<path d="M200.3 515L222.8 640" stroke="#777" stroke-width="0.6" fill="none" />
<path d="M205 515L227.5 640" stroke="#111" stroke-width="1.9" fill="none" />
<path d="M207.3 515L229.8 640" stroke="#777" stroke-width="0.6" fill="none" />
<path d="M212 515L234.5 640" stroke="#111" stroke-width="1.9" fill="none" />
<path d="M214.3 515L236.8 640" stroke="#777" stroke-width="0.6" fill="none" />
<path d="M219 515L241.5 640" stroke="#111" stroke-width="1.9" fill="none" />
<path d="M221.3 515L243.8 640" stroke="#777" stroke-width="0.6" fill="none" />
<path d="M226 515L248.5 640" stroke="#111" stroke-width="1.9" fill="none" />
<path d="M228.3 515L250.8 640" stroke="#777" stroke-width="0.6" fill="none" />
<path d="M233 515L255.5 640" stroke="#111" stroke-width="1.9" fill="none" />
<path d="M235.3 515L257.8 640" stroke="#777" stroke-width="0.6" fill="none" />
<path d="M240 515L262.5 640" stroke="#111" stroke-width="1.9" fill="none" />
<path d="M242.3 515L264.8 640" stroke="#777" stroke-width="0.6" fill="none" />
<path d="M247 515L269.5 640" stroke="#111" stroke-width="1.9" fill="none" />
<path d="M249.3 515L271.8 640" stroke="#777" stroke-width="0.6" fill="none" />
<path d="M254 515L276.5 640" stroke="#111" stroke-width="1.9" fill="none" />
<path d="M256.3 515L278.8 640" stroke="#777" stroke-width="0.6" fill="none" />
<path d="M261 515L283.5 640" stroke="#111" stroke-width="1.9" fill="none" />
<path d="M263.3 515L285.8 640" stroke="#777" stroke-width="0.6" fill="none" />
<path d="M268 515L290.5 640" stroke="#111" stroke-width="1.9" fill="none" />
<path d="M270.3 515L292.8 640" stroke="#777" stroke-width="0.6" fill="none" />
<path d="M275 515L297.5 640" stroke="#111" stroke-width="1.9" fill="none" />
<path d="M277.3 515L299.8 640" stroke="#777" stroke-width="0.6" fill="none" />
</g>
<path d="M230.8 529.7L245 524L258 520.5L272 519.2" stroke="#222" stroke-width="0.9" fill="none" />
<path d="M272 519.2Q278.5 528 277 540Q275 556 268.4 573.4" stroke="#111" stroke-width="1.3" fill="none" />
<path d="M267.5 577Q273.5 588 271.5 601Q269 613 264 624" stroke="#111" stroke-width="1.3" fill="none" />
<path d="M208 620.6L240 628L262 632" stroke="#222" stroke-width="0.9" fill="none" />
<path d="M278 540L278 630M281 546.5L280.8 633" stroke="#1a1a1a" stroke-width="0.9" fill="none" />
<path d="M209.8 578.4L278 566.4L278 569.6L209.8 581.6Z" stroke="#111" stroke-width="0.9" fill="#fff" />
<path d="M271 567.6L271 570.8" stroke="#333" stroke-width="0.7" fill="none" />
<path d="M196.3 553Q196.6 549.5 200 548.6Q204 548.2 204.8 552L203.3 592Q202 595 198.5 594.6Q195 593.5 194.6 590Z" stroke="#1a1a1a" stroke-width="1" fill="#fff" />
<path d="M199.6 549L198.2 594" stroke="#444" stroke-width="0.7" fill="none" />
<path d="M197.8 594.4L207.2 595.2" stroke="#1a1a1a" stroke-width="0.9" fill="none" />
<path d="M203.8 540.2L209 541.5L207.5 560L206 596M211.5 546L207.8 600" stroke="#1a1a1a" stroke-width="0.9" fill="none" />
<path d="M213.5 549L206.5 624M216 552L210 626" stroke="#222" stroke-width="0.8" fill="none" />
<circle cx="213.5" cy="543.7" r="5" stroke="#1a1a1a" stroke-width="0.95" fill="#fff"/>
<circle cx="213.8" cy="544" r="2.7" stroke="#222" stroke-width="0.9" fill="#fff"/>
<circle cx="299.4" cy="553.9" r="5.6" stroke="#1a1a1a" stroke-width="0.95" fill="#fff"/>
<circle cx="299.6" cy="554.2" r="3" stroke="#222" stroke-width="0.9" fill="#fff"/>
<circle cx="208.9" cy="602.1" r="5" stroke="#1a1a1a" stroke-width="0.95" fill="#fff"/>
<circle cx="209.3" cy="602.4" r="2.7" stroke="#222" stroke-width="0.9" fill="#fff"/>
<circle cx="296.8" cy="615.7" r="5.8" stroke="#1a1a1a" stroke-width="0.95" fill="#fff"/>
<circle cx="297" cy="616" r="3" stroke="#222" stroke-width="0.9" fill="#fff"/>
<path d="M282.3 562L316.5 564.5L320.7 565.4L320.7 585.9L314.8 585L297.7 583.3L282.5 582" stroke="#1a1a1a" stroke-width="0.95" fill="#fff" />
<path d="M283 565.3L316 567.6M283 568.6L315.5 570.8M283 572L315.5 574M283 575.3L315.5 577.2M283 578.6L315.5 580.4" stroke="#444" stroke-width="0.7" fill="none" />
<path d="M316.5 564.5L314.8 585M318.6 565L317.8 585.5" stroke="#111" stroke-width="0.9" fill="none" />
<path d="M315.5 564.8L313.8 584.8" stroke="#333" stroke-width="1.4" fill="none" />
<path d="M297.7 583.3Q291.5 588 291.7 596.1L294.3 606.3" stroke="#1a1a1a" stroke-width="0.9" fill="none" />
<path d="M281 596.5L291.7 596.1M281 606L293 605.5M281 608L291.5 608.5" stroke="#333" stroke-width="0.8" fill="none" />
<path d="M282 607L291.8 607.2" stroke="#444" stroke-width="1.3" fill="none" />
<path d="M294.3 623.4L281 624.5M293.4 632.8L280.6 633.7" stroke="#333" stroke-width="0.8" fill="none" />
<path d="M191.8 624.3L196.1 625.1L202.1 642.2L208.9 650.7L243 654.1L246.5 652.4L273.8 635.4L275.5 630.2L268.7 626" stroke="#111" stroke-width="1.4" fill="none" />
<path d="M196.1 625.1L200 620L205 622" stroke="#1a1a1a" stroke-width="0.9" fill="none" />
<path d="M203.8 627.7L244.8 648.2L212.3 649L203.8 635.4Z" stroke="#111" stroke-width="1.9" fill="#fff" />
<path d="M206.5 631.5L238 647M205.5 634.5L211.8 645L235 647.6" stroke="#222" stroke-width="1" fill="none" />
<path d="M244.8 648.2L270 630.5M246.5 652.4L248.5 648.5L273 632.5" stroke="#111" stroke-width="1.3" fill="none" />
<path d="M240.5 645.8L266 628" stroke="#222" stroke-width="0.9" fill="none" />
<path d="M203.8 627.7L262 631" stroke="#111" stroke-width="1.5" fill="none" />
<path d="M234.5 645.5L237.5 648.8L241.5 646.8" stroke="#111" stroke-width="1.6" fill="none" />
<path d="M268.7 626L272 622.5L275.5 630.2" stroke="#1a1a1a" stroke-width="0.9" fill="none" />
<path d="M199 629.5L204.5 645L210 651" stroke="#444" stroke-width="0.7" fill="none" />
<path d="M214.19 483.91L221.5 489.5" stroke="#111" stroke-width="3.2" stroke-dasharray="1.2 0.7" fill="none"/>
<path d="M214.19 483.91L221.5 489.5" stroke="#222" stroke-width="2.7" fill="none" opacity="0.8"/>
<ellipse cx="213" cy="483" rx="1.65" ry="3" transform="rotate(37.41 213 483)" stroke="#222" stroke-width="0.9" fill="#fff"/>
<ellipse cx="212.29" cy="482.45" rx="1.35" ry="2.4" transform="rotate(37.41 212.29 482.45)" stroke="#333" stroke-width="0.7" fill="#fff"/>
<path d="M183.13 513.48L189.5 519" stroke="#111" stroke-width="3.2" stroke-dasharray="1.2 0.7" fill="none"/>
<path d="M183.13 513.48L189.5 519" stroke="#222" stroke-width="2.7" fill="none" opacity="0.8"/>
<ellipse cx="182" cy="512.5" rx="1.65" ry="3" transform="rotate(40.91 182 512.5)" stroke="#222" stroke-width="0.9" fill="#fff"/>
<ellipse cx="181.32" cy="511.91" rx="1.35" ry="2.4" transform="rotate(40.91 181.32 511.91)" stroke="#333" stroke-width="0.7" fill="#fff"/>
<path d="M168.63 568.98L175 574.5" stroke="#111" stroke-width="3.2" stroke-dasharray="1.2 0.7" fill="none"/>
<path d="M168.63 568.98L175 574.5" stroke="#222" stroke-width="2.7" fill="none" opacity="0.8"/>
<ellipse cx="167.5" cy="568" rx="1.65" ry="3" transform="rotate(40.91 167.5 568)" stroke="#222" stroke-width="0.9" fill="#fff"/>
<ellipse cx="166.82" cy="567.41" rx="1.35" ry="2.4" transform="rotate(40.91 166.82 567.41)" stroke="#333" stroke-width="0.7" fill="#fff"/>
<path d="M176.2 620.4L183 625.5" stroke="#111" stroke-width="3.2" stroke-dasharray="1.2 0.7" fill="none"/>
<path d="M176.2 620.4L183 625.5" stroke="#222" stroke-width="2.7" fill="none" opacity="0.8"/>
<ellipse cx="175" cy="619.5" rx="1.65" ry="3" transform="rotate(36.87 175 619.5)" stroke="#222" stroke-width="0.9" fill="#fff"/>
<ellipse cx="174.28" cy="618.96" rx="1.35" ry="2.4" transform="rotate(36.87 174.28 618.96)" stroke="#333" stroke-width="0.7" fill="#fff"/>
<path d="M195 508.25L215.5 492.5" stroke="#222" stroke-width="0.7" fill="none"/>
<path d="M182.5 523.75L172.5 562.5" stroke="#222" stroke-width="0.7" fill="none"/>
<path d="M171.25 577.5L178 613.75" stroke="#222" stroke-width="0.7" fill="none"/>
<ellipse cx="159.6" cy="777.3" rx="3.9" ry="11.2" transform="rotate(27 159.6 777.3)" stroke="#111" stroke-width="1.2" fill="#fff"/>
<path d="M177.9 778.6L193.3 792.9L201.3 796.6L206.5 803.9L217.4 809L205 826.6L198.4 821.5L196.2 818.5L186.7 809L169.1 795.9Z" stroke="#111" stroke-width="1.4" fill="#fff" />
<path d="M171.3 774.6L177.9 776.1L169.1 795.9L163.3 792.2Z" stroke="#111" stroke-width="1.2" fill="#1a1a1a" />
<path d="M173.2 775.6L165.3 793M175.4 776.2L167.3 794.2" stroke="#999" stroke-width="0.7" fill="none" />
<path d="M171.3 774.6Q174 772.8 177.9 776.1" stroke="#111" stroke-width="1.2" fill="none" />
<path d="M193.3 792.9L186.7 809M195.6 794L189 810.8" stroke="#111" stroke-width="1.5" fill="none" />
<path d="M199 795.5L192.2 813.5M201.3 796.6L194.3 816" stroke="#111" stroke-width="1.5" fill="none" />
<path d="M206.5 803.9L198.4 821.5M209.5 805.3L200.5 823" stroke="#111" stroke-width="1.5" fill="none" />
<path d="M213 807L203 825M217.4 809L205 826.6" stroke="#111" stroke-width="1.6" fill="none" />
<path d="M179.5 781L194 794.2" stroke="#777" stroke-width="0.6" fill="none" />
<ellipse cx="221.8" cy="822.9" rx="8.3" ry="11" transform="rotate(18 221.8 822.9)" stroke="#444" stroke-width="0.9" fill="none"/>
<ellipse cx="221.8" cy="822.9" rx="7" ry="9.7" transform="rotate(18 221.8 822.9)" stroke="#666" stroke-width="0.7" fill="none"/>
<path d="M224.5 812.3Q226.5 809.8 228.6 811.6Q229 814 226.6 814.6" stroke="#333" stroke-width="0.9" fill="none" />
<path d="M233.75 829.5L227.5 841.25Q240 850 247.5 853Q254 854.5 262 852.2L330 825L325 810L259 835.6Q253 837.3 247.5 836.25Q240 833.5 233.75 829.5Z" stroke="#111" stroke-width="1.3" fill="#fff" />
<path d="M241.6 835.4L232.8 843.6" stroke="#111" stroke-width="1" fill="none" />
<ellipse cx="335.5" cy="808.8" rx="4.6" ry="9" transform="rotate(-22 335.5 808.8)" stroke="#333" stroke-width="1.3" stroke-dasharray="2.2 1" fill="none"/>
<path d="M343.2 799.2L363.8 788.5L391 774.5L391 772.9L407.4 765.5L423.9 756.4L437.1 745.7L447.8 741.9Q457.5 754 457.7 769.6L447 778.6L430.5 776.2L412.4 781.1L398.4 787.7L398 789L382.7 795.9L371.2 802.5L351.5 813.2Q345.5 810.5 343.5 803.5Z" stroke="#2a2a2a" stroke-width="0.9" fill="#fff" />
<path d="M343.2 799.2Q350.15 804.54 351.5 813.2" stroke="#2a2a2a" stroke-width="0.85" fill="none" />
<path d="M345.5 798Q352.44 803.32 353.8 811.95" stroke="#2a2a2a" stroke-width="0.85" fill="none" />
<path d="M347.8 796.8Q354.73 802.09 356.1 810.7" stroke="#2a2a2a" stroke-width="0.85" fill="none" />
<path d="M350.1 795.6Q357.02 800.87 358.4 809.45" stroke="#2a2a2a" stroke-width="0.85" fill="none" />
<path d="M352.4 794.4Q359.31 799.64 360.7 808.2" stroke="#2a2a2a" stroke-width="0.85" fill="none" />
<path d="M363.8 788.5Q370.3 794.02 371.2 802.5" stroke="#2a2a2a" stroke-width="0.85" fill="none" />
<path d="M374.5 783.6Q381.06 788.11 382.7 795.9" stroke="#2a2a2a" stroke-width="0.85" fill="none" />
<path d="M366.4 787.15Q372.88 792.63 373.8 801.07" stroke="#2a2a2a" stroke-width="0.85" fill="none" />
<path d="M377.1 782.25Q383.64 786.72 385.3 794.47" stroke="#2a2a2a" stroke-width="0.85" fill="none" />
<path d="M391 772.9Q397.96 778.67 398.4 787.7" stroke="#2a2a2a" stroke-width="0.85" fill="none" />
<path d="M393.73 771.67Q400.51 777.6 400.73 786.6" stroke="#2a2a2a" stroke-width="0.85" fill="none" />
<path d="M396.46 770.44Q403.07 776.52 403.06 785.5" stroke="#2a2a2a" stroke-width="0.85" fill="none" />
<path d="M399.19 769.21Q405.63 775.44 405.39 784.4" stroke="#2a2a2a" stroke-width="0.85" fill="none" />
<path d="M401.92 767.98Q408.19 774.36 407.72 783.3" stroke="#2a2a2a" stroke-width="0.85" fill="none" />
<path d="M404.65 766.75Q410.75 773.29 410.05 782.2" stroke="#2a2a2a" stroke-width="0.85" fill="none" />
<path d="M407.38 765.52Q413.31 772.21 412.38 781.1" stroke="#2a2a2a" stroke-width="0.85" fill="none" />
<path d="M407.4 765.5Q413.02 772.3 412.4 781.1" stroke="#2a2a2a" stroke-width="0.85" fill="none" />
<path d="M409.46 764.36Q415.29 771.38 414.66 780.49" stroke="#2a2a2a" stroke-width="0.85" fill="none" />
<path d="M411.52 763.22Q417.55 770.47 416.92 779.88" stroke="#2a2a2a" stroke-width="0.85" fill="none" />
<path d="M413.58 762.08Q419.82 769.55 419.18 779.27" stroke="#2a2a2a" stroke-width="0.85" fill="none" />
<path d="M415.64 760.94Q422.08 768.64 421.44 778.66" stroke="#2a2a2a" stroke-width="0.85" fill="none" />
<path d="M417.7 759.8Q424.35 767.72 423.7 778.05" stroke="#2a2a2a" stroke-width="0.85" fill="none" />
<path d="M419.76 758.66Q426.62 766.81 425.96 777.44" stroke="#2a2a2a" stroke-width="0.85" fill="none" />
<path d="M421.82 757.52Q428.88 765.89 428.22 776.83" stroke="#2a2a2a" stroke-width="0.85" fill="none" />
<path d="M423.88 756.38Q431.15 764.98 430.48 776.22" stroke="#2a2a2a" stroke-width="0.85" fill="none" />
<path d="M437.1 745.7Q448.63 760.17 447 778.6" stroke="#2a2a2a" stroke-width="0.85" fill="none" />
<path d="M439.6 744.8Q450.99 759.21 449.3 777.5" stroke="#555" stroke-width="0.7" fill="none" />
<path d="M442.8 743.6Q453.85 757.16 452.5 774.6" stroke="#2a2a2a" stroke-width="0.85" fill="none" />
<path d="M445.3 742.8Q455.99 755.46 455 772" stroke="#555" stroke-width="0.7" fill="none" />
<path d="M452 758.8L456.6 757.6M453.6 757L454.2 761" stroke="#2a2a2a" stroke-width="0.8" fill="none" />
<g opacity="0.999">
<text x="103.7" y="124.85" font-size="17">9</text>
<text x="259.95" y="124.1" font-size="17">15</text>
<text x="209.2" y="183.35" font-size="17">6</text>
<text x="332.2" y="203.35" font-size="17">14</text>
<text x="114.7" y="213.35" font-size="17">18</text>
<text x="220.95" y="223.35" font-size="17">20</text>
<text x="434.7" y="206.85" font-size="17">2</text>
<text x="129.7" y="260.85" font-size="17">17</text>
<text x="354.2" y="278.35" font-size="17">16</text>
<text x="126.2" y="296.6" font-size="17">6</text>
<text x="121.7" y="319.85" font-size="17">18</text>
<text x="217.95" y="373.6" font-size="17">8</text>
<text x="327.2" y="384.1" font-size="17">10</text>
<text x="326.7" y="404.1" font-size="17">11</text>
<text x="234.7" y="429.85" font-size="17">24</text>
<text x="327.2" y="447.85" font-size="17">12</text>
<text x="369.2" y="469.35" font-size="17">7</text>
<text x="526.7" y="492.1" font-size="17">3</text>
<text x="121.2" y="517.35" font-size="17">22</text>
<text x="561.2" y="549.6" font-size="17">4</text>
<text x="332.95" y="601.1" font-size="17">21</text>
<text x="761.7" y="646.6" font-size="17">1</text>
<text x="771.2" y="679.6" font-size="17">5</text>
<text x="284.2" y="699.85" font-size="17">13</text>
<text x="763.7" y="732.35" font-size="17">23</text>
<text x="756.7" y="763.35" font-size="17">19</text>
<text x="553.7" y="771.6" font-size="17">5</text>
<text x="714.2" y="800.85" font-size="17">6</text>
<path d="M114.25 119.5L131.5 119.5" stroke="#111" stroke-width="1" fill="none"/>
<path d="M137.5 119.5L131.5 122.2L131.5 116.8Z" fill="#111"/>
<path d="M260 118.5L240.25 118.5" stroke="#111" stroke-width="1" fill="none"/>
<path d="M234.25 118.5L240.25 115.8L240.25 121.2Z" fill="#111"/>
<path d="M230 179L239.79 180.09" stroke="#111" stroke-width="1" fill="none"/>
<path d="M245.75 180.75L239.49 182.77L240.08 177.4Z" fill="#111"/>
<path d="M331.25 198.5L306 198.5" stroke="#111" stroke-width="1" fill="none"/>
<path d="M300 198.5L306 195.8L306 201.2Z" fill="#111"/>
<path d="M137.5 211.5L156 211.5" stroke="#111" stroke-width="1" fill="none"/>
<path d="M162 211.5L156 214.2L156 208.8Z" fill="#111"/>
<path d="M230.5 225.5L230.5 238.3" stroke="#111" stroke-width="1" fill="none"/>
<path d="M230.5 244.3L227.8 238.3L233.2 238.3Z" fill="#111"/>
<path d="M446.25 202.5L465 202.5" stroke="#111" stroke-width="1" fill="none"/>
<path d="M471 202.5L465 205.2L465 199.8Z" fill="#111"/>
<path d="M149.25 256.5L167.75 256.5" stroke="#111" stroke-width="1" fill="none"/>
<path d="M173.75 256.5L167.75 259.2L167.75 253.8Z" fill="#111"/>
<path d="M149.25 257.5L167.46 269.25" stroke="#111" stroke-width="1" fill="none"/>
<path d="M172.5 272.5L165.99 271.52L168.92 266.98Z" fill="#111"/>
<path d="M359.5 283.75L353.97 294.65" stroke="#111" stroke-width="1" fill="none"/>
<path d="M351.25 300L351.56 293.43L356.37 295.87Z" fill="#111"/>
<path d="M148.25 295.5L168.5 295.5" stroke="#111" stroke-width="1" fill="none"/>
<path d="M174.5 295.5L168.5 298.2L168.5 292.8Z" fill="#111"/>
<path d="M141.25 313.5L159.5 313.5" stroke="#111" stroke-width="1" fill="none"/>
<path d="M165.5 313.5L159.5 316.2L159.5 310.8Z" fill="#111"/>
<path d="M141.25 314.5L155.94 322.21" stroke="#111" stroke-width="1" fill="none"/>
<path d="M161.25 325L154.68 324.6L157.19 319.82Z" fill="#111"/>
<path d="M230.5 362.5L253.49 349.89" stroke="#111" stroke-width="1" fill="none"/>
<path d="M258.75 347L254.79 352.25L252.19 347.52Z" fill="#111"/>
<path d="M325 378.25L301 379.05" stroke="#111" stroke-width="1" fill="none"/>
<path d="M295 379.25L300.91 376.35L301.09 381.75Z" fill="#111"/>
<path d="M325 400L298 401.02" stroke="#111" stroke-width="1" fill="none"/>
<path d="M292 401.25L297.89 398.32L298.1 403.72Z" fill="#111"/>
<path d="M253.75 424.5L273.5 424.5" stroke="#111" stroke-width="1" fill="none"/>
<path d="M279.5 424.5L273.5 427.2L273.5 421.8Z" fill="#111"/>
<path d="M325 441.75L301.5 441.35" stroke="#111" stroke-width="1" fill="none"/>
<path d="M295.5 441.25L301.54 438.65L301.45 444.05Z" fill="#111"/>
<path d="M380 472L437.09 462.26" stroke="#111" stroke-width="1" fill="none"/>
<path d="M443 461.25L437.54 464.92L436.63 459.6Z" fill="#111"/>
<path d="M380 472L391.9 479.35" stroke="#111" stroke-width="1" fill="none"/>
<path d="M397 482.5L390.48 481.64L393.31 477.05Z" fill="#111"/>
<path d="M380 472L358.86 515.85" stroke="#111" stroke-width="1" fill="none"/>
<path d="M356.25 521.25L356.42 514.67L361.29 517.02Z" fill="#111"/>
<path d="M525 485.5L499.75 485.5" stroke="#111" stroke-width="1" fill="none"/>
<path d="M493.75 485.5L499.75 482.8L499.75 488.2Z" fill="#111"/>
<path d="M450 502.5L422.25 502.5" stroke="#111" stroke-width="1" fill="none"/>
<path d="M416.25 502.5L422.25 499.8L422.25 505.2Z" fill="#111"/>
<path d="M147 510.5L164 510.5" stroke="#111" stroke-width="1" fill="none"/>
<path d="M170 510.5L164 513.2L164 507.8Z" fill="#111"/>
<path d="M560 549.5L534.75 549.5" stroke="#111" stroke-width="1" fill="none"/>
<path d="M528.75 549.5L534.75 546.8L534.75 552.2Z" fill="#111"/>
<path d="M330 596.5L303.5 596.5" stroke="#111" stroke-width="1" fill="none"/>
<path d="M297.5 596.5L303.5 593.8L303.5 599.2Z" fill="#111"/>
<path d="M761.25 640.5L748 640.5" stroke="#111" stroke-width="1" fill="none"/>
<path d="M742 640.5L748 637.8L748 643.2Z" fill="#111"/>
<path d="M770.5 675.75L757.25 676.09" stroke="#111" stroke-width="1" fill="none"/>
<path d="M751.25 676.25L757.18 673.4L757.32 678.79Z" fill="#111"/>
<path d="M294.5 705L294.5 730.6" stroke="#111" stroke-width="1" fill="none"/>
<path d="M294.5 736.6L291.8 730.6L297.2 730.6Z" fill="#111"/>
<path d="M765 720L754.24 709.24" stroke="#111" stroke-width="1" fill="none"/>
<path d="M750 705L756.15 707.33L752.33 711.15Z" fill="#111"/>
<path d="M762.5 750L738.38 721.58" stroke="#111" stroke-width="1" fill="none"/>
<path d="M734.5 717L740.44 719.83L736.32 723.32Z" fill="#111"/>
<path d="M565 763.5L575.25 763.5" stroke="#111" stroke-width="1" fill="none"/>
<path d="M581.25 763.5L575.25 766.2L575.25 760.8Z" fill="#111"/>
<path d="M712.5 787.5L691.89 763.32" stroke="#111" stroke-width="1" fill="none"/>
<path d="M688 758.75L693.95 761.57L689.84 765.07Z" fill="#111"/>
</g>
</svg>
</body></html>
